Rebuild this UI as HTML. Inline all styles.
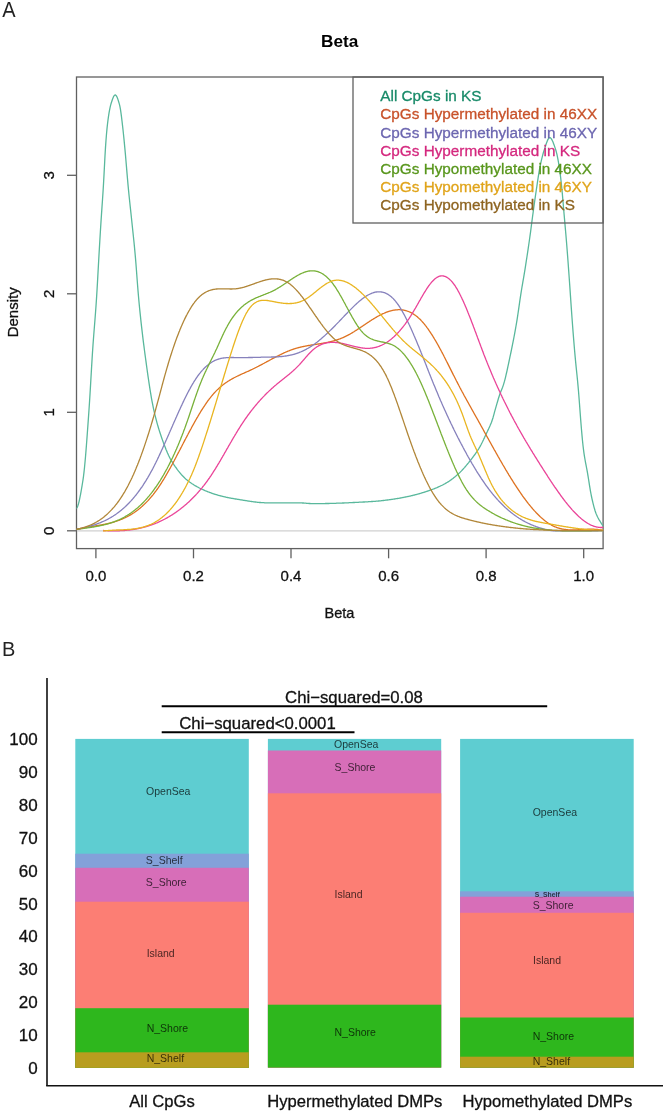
<!DOCTYPE html>
<html><head><meta charset="utf-8"><style>
html,body{margin:0;padding:0;background:#fff;width:666px;height:1116px;overflow:hidden}
svg{display:block;font-family:"Liberation Sans", sans-serif;will-change:transform}
</style></head><body>
<svg width="666" height="1116" viewBox="0 0 666 1116">
<text transform="translate(2.2,16.9) scale(0.93,1)" font-size="21.5" fill="#222" stroke="none">A</text>
<text x="339.7" y="46.9" font-size="17.2" font-weight="bold" text-anchor="middle" fill="#000">Beta</text>
<rect x="76.5" y="77" width="526.6" height="471.6" fill="none" stroke="#606060" stroke-width="1.3"/>
<line x1="77" y1="530.8" x2="603" y2="530.8" stroke="#d0d0d0" stroke-width="1.2"/>
<line x1="67" y1="530.8" x2="76.5" y2="530.8" stroke="#606060" stroke-width="1.3"/>
<text transform="translate(54,530.8) rotate(-90)" font-size="15" text-anchor="middle" fill="#111" stroke="#111" stroke-width="0.3">0</text>
<line x1="67" y1="412.3" x2="76.5" y2="412.3" stroke="#606060" stroke-width="1.3"/>
<text transform="translate(54,412.3) rotate(-90)" font-size="15" text-anchor="middle" fill="#111" stroke="#111" stroke-width="0.3">1</text>
<line x1="67" y1="293.8" x2="76.5" y2="293.8" stroke="#606060" stroke-width="1.3"/>
<text transform="translate(54,293.8) rotate(-90)" font-size="15" text-anchor="middle" fill="#111" stroke="#111" stroke-width="0.3">2</text>
<line x1="67" y1="175.3" x2="76.5" y2="175.3" stroke="#606060" stroke-width="1.3"/>
<text transform="translate(54,175.3) rotate(-90)" font-size="15" text-anchor="middle" fill="#111" stroke="#111" stroke-width="0.3">3</text>
<line x1="95.9" y1="548.5" x2="95.9" y2="558.3" stroke="#606060" stroke-width="1.3"/>
<text x="95.9" y="581.4" font-size="15" text-anchor="middle" fill="#111" stroke="#111" stroke-width="0.3">0.0</text>
<line x1="193.5" y1="548.5" x2="193.5" y2="558.3" stroke="#606060" stroke-width="1.3"/>
<text x="193.5" y="581.4" font-size="15" text-anchor="middle" fill="#111" stroke="#111" stroke-width="0.3">0.2</text>
<line x1="291.0" y1="548.5" x2="291.0" y2="558.3" stroke="#606060" stroke-width="1.3"/>
<text x="291.0" y="581.4" font-size="15" text-anchor="middle" fill="#111" stroke="#111" stroke-width="0.3">0.4</text>
<line x1="388.6" y1="548.5" x2="388.6" y2="558.3" stroke="#606060" stroke-width="1.3"/>
<text x="388.6" y="581.4" font-size="15" text-anchor="middle" fill="#111" stroke="#111" stroke-width="0.3">0.6</text>
<line x1="486.1" y1="548.5" x2="486.1" y2="558.3" stroke="#606060" stroke-width="1.3"/>
<text x="486.1" y="581.4" font-size="15" text-anchor="middle" fill="#111" stroke="#111" stroke-width="0.3">0.8</text>
<line x1="583.7" y1="548.5" x2="583.7" y2="558.3" stroke="#606060" stroke-width="1.3"/>
<text x="583.7" y="581.4" font-size="15" text-anchor="middle" fill="#111" stroke="#111" stroke-width="0.3">1.0</text>
<text x="339.5" y="617.8" font-size="14.5" text-anchor="middle" fill="#111" stroke="#111" stroke-width="0.3">Beta</text>
<text transform="translate(18,312.3) rotate(-90)" font-size="15" text-anchor="middle" fill="#111" stroke="#111" stroke-width="0.3">Density</text>
<defs><clipPath id="clipA"><rect x="76.5" y="77.5" width="526.8" height="471"/></clipPath></defs><g clip-path="url(#clipA)"><path d="M76.0,508.6 76.5,508.3 77.0,507.7 77.5,506.7 78.0,505.3 78.5,503.7 79.0,501.8 79.5,499.6 80.0,497.2 80.5,494.6 81.0,491.9 81.5,489.0 82.0,486.1 82.5,483.0 83.0,479.8 83.5,476.3 84.0,472.2 84.5,467.5 85.0,462.3 85.5,456.7 86.0,450.6 86.5,444.3 87.0,437.6 87.5,430.8 88.0,423.9 88.5,416.9 89.0,409.8 89.5,402.3 90.0,394.3 90.5,385.9 91.0,377.2 91.5,368.6 92.0,360.2 92.5,352.3 93.0,345.0 93.5,338.2 94.0,331.8 94.5,325.5 95.0,319.3 95.5,312.8 96.0,306.0 96.5,298.6 97.0,290.5 97.5,281.9 98.0,272.8 98.5,263.7 99.0,254.8 99.5,246.2 100.0,237.7 100.5,229.5 101.0,221.6 101.5,214.1 102.0,206.9 102.5,199.8 103.0,192.3 103.5,184.0 104.0,174.9 104.5,165.2 105.0,155.8 105.5,147.4 106.0,140.2 106.5,134.0 107.0,128.6 107.5,124.0 108.0,120.0 108.5,116.4 109.0,113.2 109.5,110.4 110.0,107.8 110.5,105.7 111.0,103.8 111.5,102.2 112.0,100.7 112.5,99.2 113.0,97.9 113.5,96.8 114.0,95.9 114.5,95.3 115.0,95.0 115.5,95.0 116.0,95.4 116.5,96.1 117.0,97.0 117.5,98.2 118.0,99.6 118.5,101.2 119.0,102.9 119.5,104.7 120.0,106.9 120.5,109.7 121.0,113.1 121.5,116.9 122.0,121.0 122.5,125.3 123.0,129.8 123.5,134.5 124.0,139.4 124.5,144.6 125.0,149.9 125.5,155.4 126.0,161.2 126.5,167.1 127.0,173.1 127.5,178.9 128.0,184.6 128.5,189.9 129.0,195.0 129.5,199.8 130.0,204.5 130.5,209.1 131.0,213.8 131.5,218.5 132.0,223.2 132.5,228.0 133.0,232.7 133.5,237.5 134.0,242.3 134.5,247.4 135.0,252.7 135.5,258.4 136.0,264.5 136.5,271.0 137.0,277.7 137.5,284.3 138.0,290.6 138.5,296.5 139.0,302.0 139.5,307.2 140.0,312.1 140.5,316.9 141.0,321.6 141.5,326.1 142.0,330.4 142.5,334.7 143.0,338.8 143.5,342.8 144.0,346.7 144.5,350.5 145.0,354.3 145.5,358.0 146.0,361.7 146.5,365.4 147.0,369.0 147.5,372.6 148.0,376.1 148.5,379.5 149.0,382.9 149.5,386.2 150.0,389.4 150.5,392.4 151.0,395.4 151.5,398.3 152.0,401.1 152.5,403.7 153.0,406.2 153.5,408.6 154.0,410.8 154.5,413.0 155.0,415.1 155.5,417.1 156.0,419.0 156.5,420.9 157.0,422.8 157.5,424.6 158.0,426.3 158.5,428.0 159.0,429.6 159.5,431.2 160.0,432.8 160.5,434.3 161.0,435.8 161.5,437.3 162.0,438.7 162.5,440.1 163.0,441.5 163.5,442.9 164.0,444.2 164.5,445.5 165.0,446.8 165.5,448.1 166.0,449.4 166.5,450.6 167.0,451.8 167.5,453.0 168.0,454.1 168.5,455.2 169.0,456.2 169.5,457.2 170.0,458.2 170.5,459.1 171.0,460.0 171.5,460.8 172.0,461.6 172.5,462.4 173.0,463.2 173.5,464.0 174.0,464.8 174.5,465.5 175.0,466.3 175.5,467.0 176.0,467.7 176.5,468.4 177.0,469.1 177.5,469.8 178.0,470.4 178.5,471.1 179.0,471.7 179.5,472.3 180.0,472.9 180.5,473.5 181.0,474.1 181.5,474.7 182.0,475.2 182.5,475.8 183.0,476.3 183.5,476.8 184.0,477.3 184.5,477.8 185.0,478.3 185.5,478.7 186.0,479.2 186.5,479.6 187.0,480.0 187.5,480.4 188.0,480.8 188.5,481.2 189.0,481.6 189.5,481.9 190.0,482.3 190.5,482.6 191.0,483.0 191.5,483.3 192.0,483.7 192.5,484.0 193.0,484.3 193.5,484.6 194.0,485.0 194.5,485.3 195.0,485.6 195.5,485.9 196.0,486.1 196.5,486.4 197.0,486.7 197.5,487.0 198.0,487.2 198.5,487.5 199.0,487.8 199.5,488.0 200.0,488.3 200.5,488.5 201.0,488.8 201.5,489.0 202.0,489.2 202.5,489.5 203.0,489.7 203.5,489.9 204.0,490.1 204.5,490.3 205.0,490.6 205.5,490.8 206.0,491.0 206.5,491.2 207.0,491.4 207.5,491.6 208.0,491.8 208.5,492.0 209.0,492.2 209.5,492.4 210.0,492.6 210.5,492.7 211.0,492.9 211.5,493.1 212.0,493.3 212.5,493.5 213.0,493.6 213.5,493.8 214.0,494.0 214.5,494.1 215.0,494.3 215.5,494.4 216.0,494.6 216.5,494.7 217.0,494.9 217.5,495.0 218.0,495.2 218.5,495.3 219.0,495.5 219.5,495.6 220.0,495.7 220.5,495.9 221.0,496.0 221.5,496.1 222.0,496.2 222.5,496.3 223.0,496.5 223.5,496.6 224.0,496.7 224.5,496.8 225.0,496.9 225.5,497.0 226.0,497.2 226.5,497.3 227.0,497.4 227.5,497.5 228.0,497.6 228.5,497.7 229.0,497.8 229.5,497.9 230.0,498.0 230.5,498.1 231.0,498.2 231.5,498.3 232.0,498.4 232.5,498.4 233.0,498.5 233.5,498.6 234.0,498.7 234.5,498.8 235.0,498.9 235.5,499.0 236.0,499.0 236.5,499.1 237.0,499.2 237.5,499.3 238.0,499.4 238.5,499.4 239.0,499.5 239.5,499.6 240.0,499.7 240.5,499.8 241.0,499.8 241.5,499.9 242.0,500.0 242.5,500.1 243.0,500.2 243.5,500.3 244.0,500.3 244.5,500.4 245.0,500.5 245.5,500.6 246.0,500.7 246.5,500.7 247.0,500.8 247.5,500.9 248.0,501.0 248.5,501.1 249.0,501.1 249.5,501.2 250.0,501.3 250.5,501.4 251.0,501.4 251.5,501.5 252.0,501.6 252.5,501.6 253.0,501.7 253.5,501.8 254.0,501.9 254.5,501.9 255.0,502.0 255.5,502.0 256.0,502.1 256.5,502.2 257.0,502.2 257.5,502.3 258.0,502.3 258.5,502.4 259.0,502.4 259.5,502.5 260.0,502.5 260.5,502.5 261.0,502.6 261.5,502.6 262.0,502.6 262.5,502.7 263.0,502.7 263.5,502.7 264.0,502.7 264.5,502.8 265.0,502.8 265.5,502.8 266.0,502.8 266.5,502.8 267.0,502.8 267.5,502.8 268.0,502.8 268.5,502.8 269.0,502.8 269.5,502.8 270.0,502.8 270.5,502.8 271.0,502.8 271.5,502.8 272.0,502.8 272.5,502.8 273.0,502.8 273.5,502.8 274.0,502.8 274.5,502.8 275.0,502.8 275.5,502.8 276.0,502.8 276.5,502.8 277.0,502.8 277.5,502.8 278.0,502.8 278.5,502.8 279.0,502.8 279.5,502.8 280.0,502.8 280.5,502.8 281.0,502.8 281.5,502.8 282.0,502.8 282.5,502.8 283.0,502.8 283.5,502.8 284.0,502.8 284.5,502.8 285.0,502.8 285.5,502.8 286.0,502.8 286.5,502.8 287.0,502.8 287.5,502.8 288.0,502.8 288.5,502.8 289.0,502.8 289.5,502.8 290.0,502.8 290.5,502.8 291.0,502.8 291.5,502.8 292.0,502.8 292.5,502.8 293.0,502.8 293.5,502.8 294.0,502.8 294.5,502.8 295.0,502.8 295.5,502.8 296.0,502.8 296.5,502.8 297.0,502.8 297.5,502.8 298.0,502.8 298.5,502.8 299.0,502.8 299.5,502.8 300.0,502.8 300.5,502.9 301.0,502.9 301.5,502.9 302.0,502.9 302.5,503.0 303.0,503.0 303.5,503.0 304.0,503.1 304.5,503.1 305.0,503.1 305.5,503.2 306.0,503.2 306.5,503.3 307.0,503.3 307.5,503.3 308.0,503.4 308.5,503.4 309.0,503.5 309.5,503.5 310.0,503.5 310.5,503.6 311.0,503.6 311.5,503.6 312.0,503.6 312.5,503.7 313.0,503.7 313.5,503.7 314.0,503.7 314.5,503.7 315.0,503.7 315.5,503.7 316.0,503.7 316.5,503.7 317.0,503.7 317.5,503.7 318.0,503.7 318.5,503.7 319.0,503.7 319.5,503.7 320.0,503.7 320.5,503.7 321.0,503.6 321.5,503.6 322.0,503.6 322.5,503.6 323.0,503.6 323.5,503.6 324.0,503.6 324.5,503.6 325.0,503.6 325.5,503.5 326.0,503.5 326.5,503.5 327.0,503.5 327.5,503.5 328.0,503.5 328.5,503.5 329.0,503.5 329.5,503.4 330.0,503.4 330.5,503.4 331.0,503.4 331.5,503.4 332.0,503.4 332.5,503.4 333.0,503.3 333.5,503.3 334.0,503.3 334.5,503.3 335.0,503.3 335.5,503.3 336.0,503.3 336.5,503.2 337.0,503.2 337.5,503.2 338.0,503.2 338.5,503.2 339.0,503.2 339.5,503.1 340.0,503.1 340.5,503.1 341.0,503.1 341.5,503.1 342.0,503.1 342.5,503.0 343.0,503.0 343.5,503.0 344.0,503.0 344.5,502.9 345.0,502.9 345.5,502.9 346.0,502.9 346.5,502.9 347.0,502.8 347.5,502.8 348.0,502.8 348.5,502.8 349.0,502.7 349.5,502.7 350.0,502.7 350.5,502.7 351.0,502.6 351.5,502.6 352.0,502.6 352.5,502.6 353.0,502.5 353.5,502.5 354.0,502.5 354.5,502.5 355.0,502.4 355.5,502.4 356.0,502.4 356.5,502.4 357.0,502.3 357.5,502.3 358.0,502.3 358.5,502.3 359.0,502.2 359.5,502.2 360.0,502.2 360.5,502.2 361.0,502.1 361.5,502.1 362.0,502.1 362.5,502.1 363.0,502.0 363.5,502.0 364.0,502.0 364.5,502.0 365.0,501.9 365.5,501.9 366.0,501.9 366.5,501.8 367.0,501.8 367.5,501.8 368.0,501.8 368.5,501.7 369.0,501.7 369.5,501.7 370.0,501.6 370.5,501.6 371.0,501.6 371.5,501.5 372.0,501.5 372.5,501.5 373.0,501.4 373.5,501.4 374.0,501.4 374.5,501.3 375.0,501.3 375.5,501.3 376.0,501.2 376.5,501.2 377.0,501.1 377.5,501.1 378.0,501.1 378.5,501.0 379.0,501.0 379.5,500.9 380.0,500.9 380.5,500.8 381.0,500.8 381.5,500.7 382.0,500.6 382.5,500.6 383.0,500.5 383.5,500.5 384.0,500.4 384.5,500.4 385.0,500.3 385.5,500.2 386.0,500.2 386.5,500.1 387.0,500.0 387.5,500.0 388.0,499.9 388.5,499.8 389.0,499.8 389.5,499.7 390.0,499.6 390.5,499.6 391.0,499.5 391.5,499.4 392.0,499.3 392.5,499.3 393.0,499.2 393.5,499.1 394.0,499.1 394.5,499.0 395.0,498.9 395.5,498.8 396.0,498.7 396.5,498.7 397.0,498.6 397.5,498.5 398.0,498.4 398.5,498.3 399.0,498.3 399.5,498.2 400.0,498.1 400.5,498.0 401.0,497.9 401.5,497.8 402.0,497.7 402.5,497.6 403.0,497.5 403.5,497.4 404.0,497.3 404.5,497.2 405.0,497.1 405.5,497.0 406.0,496.9 406.5,496.8 407.0,496.7 407.5,496.6 408.0,496.5 408.5,496.4 409.0,496.3 409.5,496.2 410.0,496.1 410.5,496.0 411.0,495.8 411.5,495.7 412.0,495.6 412.5,495.5 413.0,495.4 413.5,495.2 414.0,495.1 414.5,495.0 415.0,494.9 415.5,494.7 416.0,494.6 416.5,494.5 417.0,494.3 417.5,494.2 418.0,494.0 418.5,493.9 419.0,493.8 419.5,493.6 420.0,493.5 420.5,493.3 421.0,493.2 421.5,493.0 422.0,492.9 422.5,492.7 423.0,492.6 423.5,492.4 424.0,492.3 424.5,492.1 425.0,491.9 425.5,491.8 426.0,491.6 426.5,491.4 427.0,491.3 427.5,491.1 428.0,490.9 428.5,490.8 429.0,490.6 429.5,490.4 430.0,490.2 430.5,490.1 431.0,489.9 431.5,489.7 432.0,489.5 432.5,489.3 433.0,489.2 433.5,489.0 434.0,488.8 434.5,488.6 435.0,488.4 435.5,488.2 436.0,488.0 436.5,487.8 437.0,487.6 437.5,487.3 438.0,487.1 438.5,486.9 439.0,486.7 439.5,486.5 440.0,486.2 440.5,486.0 441.0,485.7 441.5,485.5 442.0,485.3 442.5,485.0 443.0,484.8 443.5,484.5 444.0,484.2 444.5,484.0 445.0,483.7 445.5,483.4 446.0,483.1 446.5,482.8 447.0,482.5 447.5,482.2 448.0,481.9 448.5,481.6 449.0,481.3 449.5,480.9 450.0,480.6 450.5,480.2 451.0,479.9 451.5,479.5 452.0,479.1 452.5,478.8 453.0,478.4 453.5,478.0 454.0,477.6 454.5,477.2 455.0,476.8 455.5,476.4 456.0,475.9 456.5,475.5 457.0,475.1 457.5,474.6 458.0,474.2 458.5,473.7 459.0,473.3 459.5,472.8 460.0,472.4 460.5,471.9 461.0,471.4 461.5,470.9 462.0,470.3 462.5,469.8 463.0,469.3 463.5,468.7 464.0,468.1 464.5,467.6 465.0,467.0 465.5,466.4 466.0,465.8 466.5,465.2 467.0,464.6 467.5,464.0 468.0,463.4 468.5,462.8 469.0,462.1 469.5,461.5 470.0,460.9 470.5,460.3 471.0,459.6 471.5,459.0 472.0,458.3 472.5,457.7 473.0,457.0 473.5,456.4 474.0,455.7 474.5,455.0 475.0,454.3 475.5,453.6 476.0,452.9 476.5,452.2 477.0,451.5 477.5,450.7 478.0,449.9 478.5,449.1 479.0,448.3 479.5,447.4 480.0,446.6 480.5,445.6 481.0,444.7 481.5,443.7 482.0,442.8 482.5,441.8 483.0,440.7 483.5,439.7 484.0,438.6 484.5,437.6 485.0,436.5 485.5,435.4 486.0,434.4 486.5,433.3 487.0,432.2 487.5,431.2 488.0,430.1 488.5,429.1 489.0,428.0 489.5,426.9 490.0,425.8 490.5,424.6 491.0,423.4 491.5,422.2 492.0,420.8 492.5,419.3 493.0,417.7 493.5,415.9 494.0,414.1 494.5,412.2 495.0,410.4 495.5,408.6 496.0,406.9 496.5,405.1 497.0,403.4 497.5,401.7 498.0,400.0 498.5,398.3 499.0,396.7 499.5,395.2 500.0,393.8 500.5,392.4 501.0,391.1 501.5,389.9 502.0,388.7 502.5,387.5 503.0,386.1 503.5,384.6 504.0,382.9 504.5,381.2 505.0,379.3 505.5,377.3 506.0,375.2 506.5,373.0 507.0,370.8 507.5,368.5 508.0,366.2 508.5,363.8 509.0,361.5 509.5,359.1 510.0,356.7 510.5,354.4 511.0,352.0 511.5,349.6 512.0,347.1 512.5,344.7 513.0,342.2 513.5,339.6 514.0,337.0 514.5,334.4 515.0,331.7 515.5,328.9 516.0,326.0 516.5,323.1 517.0,320.1 517.5,316.9 518.0,313.5 518.5,310.1 519.0,306.6 519.5,303.1 520.0,299.6 520.5,296.3 521.0,293.1 521.5,290.0 522.0,287.0 522.5,284.1 523.0,281.2 523.5,278.3 524.0,275.3 524.5,272.3 525.0,269.3 525.5,266.1 526.0,262.9 526.5,259.7 527.0,256.5 527.5,253.2 528.0,249.8 528.5,246.4 529.0,243.0 529.5,239.5 530.0,235.9 530.5,232.3 531.0,228.5 531.5,224.7 532.0,220.9 532.5,217.0 533.0,213.3 533.5,209.6 534.0,206.0 534.5,202.4 535.0,198.9 535.5,195.4 536.0,192.0 536.5,188.7 537.0,185.3 537.5,181.9 538.0,178.6 538.5,175.4 539.0,172.3 539.5,169.4 540.0,166.8 540.5,164.4 541.0,162.1 541.5,159.9 542.0,157.8 542.5,155.8 543.0,154.0 543.5,152.2 544.0,150.6 544.5,149.1 545.0,147.6 545.5,146.0 546.0,144.5 546.5,143.0 547.0,141.7 547.5,140.4 548.0,139.4 548.5,138.6 549.0,138.0 549.5,137.7 550.0,137.7 550.5,137.9 551.0,138.4 551.5,139.1 552.0,139.9 552.5,141.0 553.0,142.1 553.5,143.4 554.0,144.7 554.5,146.1 555.0,147.6 555.5,149.1 556.0,150.8 556.5,152.6 557.0,154.7 557.5,157.1 558.0,159.7 558.5,162.5 559.0,165.6 559.5,168.8 560.0,172.4 560.5,176.4 561.0,180.7 561.5,185.3 562.0,190.3 562.5,195.6 563.0,201.4 563.5,207.3 564.0,213.2 564.5,218.9 565.0,224.6 565.5,230.2 566.0,236.0 566.5,242.0 567.0,248.2 567.5,254.6 568.0,261.3 568.5,268.1 569.0,275.0 569.5,282.0 570.0,289.1 570.5,296.4 571.0,303.7 571.5,310.9 572.0,317.8 572.5,324.5 573.0,331.1 573.5,337.4 574.0,343.5 574.5,349.5 575.0,355.1 575.5,360.5 576.0,365.6 576.5,370.5 577.0,375.3 577.5,380.3 578.0,385.6 578.5,391.3 579.0,397.5 579.5,404.0 580.0,410.8 580.5,417.4 581.0,423.8 581.5,429.8 582.0,435.4 582.5,440.7 583.0,445.5 583.5,449.7 584.0,453.4 584.5,456.6 585.0,459.5 585.5,462.3 586.0,464.9 586.5,467.5 587.0,470.2 587.5,472.9 588.0,475.9 588.5,479.0 589.0,482.1 589.5,485.3 590.0,488.4 590.5,491.3 591.0,494.0 591.5,496.5 592.0,498.8 592.5,501.0 593.0,503.1 593.5,505.1 594.0,507.1 594.5,508.8 595.0,510.5 595.5,512.0 596.0,513.4 596.5,514.6 597.0,515.7 597.5,516.8 598.0,517.8 598.5,518.7 599.0,519.6 599.5,520.4 600.0,521.2 600.5,522.0 601.0,522.8 601.5,523.6 602.0,524.3 602.5,525.1 603.0,525.8 603.5,526.2" fill="none" stroke="#59b89c" stroke-width="1.3" stroke-linejoin="round"/>
<path d="M76.0,529.5 76.5,529.4 77.0,529.2 77.5,529.1 78.0,529.0 78.5,528.9 79.0,528.8 79.5,528.7 80.0,528.6 80.5,528.5 81.0,528.4 81.5,528.3 82.0,528.2 82.5,528.1 83.0,528.0 83.5,527.9 84.0,527.8 84.5,527.7 85.0,527.6 85.5,527.5 86.0,527.5 86.5,527.4 87.0,527.3 87.5,527.2 88.0,527.1 88.5,527.0 89.0,527.0 89.5,526.9 90.0,526.8 90.5,526.7 91.0,526.6 91.5,526.6 92.0,526.5 92.5,526.4 93.0,526.3 93.5,526.2 94.0,526.2 94.5,526.1 95.0,526.0 95.5,525.9 96.0,525.8 96.5,525.7 97.0,525.7 97.5,525.6 98.0,525.5 98.5,525.4 99.0,525.3 99.5,525.2 100.0,525.1 100.5,525.1 101.0,525.0 101.5,524.9 102.0,524.8 102.5,524.7 103.0,524.6 103.5,524.5 104.0,524.4 104.5,524.3 105.0,524.2 105.5,524.1 106.0,524.0 106.5,523.9 107.0,523.8 107.5,523.7 108.0,523.5 108.5,523.4 109.0,523.3 109.5,523.2 110.0,523.1 110.5,522.9 111.0,522.8 111.5,522.7 112.0,522.5 112.5,522.4 113.0,522.3 113.5,522.1 114.0,522.0 114.5,521.8 115.0,521.7 115.5,521.5 116.0,521.3 116.5,521.2 117.0,521.0 117.5,520.8 118.0,520.7 118.5,520.5 119.0,520.3 119.5,520.1 120.0,519.9 120.5,519.7 121.0,519.5 121.5,519.3 122.0,519.1 122.5,518.9 123.0,518.7 123.5,518.5 124.0,518.2 124.5,518.0 125.0,517.8 125.5,517.5 126.0,517.3 126.5,517.0 127.0,516.8 127.5,516.5 128.0,516.3 128.5,516.0 129.0,515.7 129.5,515.4 130.0,515.2 130.5,514.9 131.0,514.6 131.5,514.3 132.0,514.0 132.5,513.6 133.0,513.3 133.5,513.0 134.0,512.7 134.5,512.3 135.0,512.0 135.5,511.6 136.0,511.3 136.5,510.9 137.0,510.5 137.5,510.2 138.0,509.8 138.5,509.4 139.0,509.0 139.5,508.6 140.0,508.2 140.5,507.7 141.0,507.3 141.5,506.9 142.0,506.4 142.5,506.0 143.0,505.5 143.5,505.1 144.0,504.6 144.5,504.1 145.0,503.6 145.5,503.2 146.0,502.6 146.5,502.1 147.0,501.6 147.5,501.1 148.0,500.6 148.5,500.0 149.0,499.5 149.5,498.9 150.0,498.3 150.5,497.8 151.0,497.2 151.5,496.6 152.0,496.0 152.5,495.4 153.0,494.8 153.5,494.1 154.0,493.5 154.5,492.9 155.0,492.2 155.5,491.5 156.0,490.9 156.5,490.2 157.0,489.5 157.5,488.8 158.0,488.1 158.5,487.3 159.0,486.6 159.5,485.9 160.0,485.1 160.5,484.4 161.0,483.6 161.5,482.8 162.0,482.0 162.5,481.2 163.0,480.4 163.5,479.6 164.0,478.8 164.5,477.9 165.0,477.1 165.5,476.3 166.0,475.4 166.5,474.5 167.0,473.7 167.5,472.8 168.0,471.9 168.5,471.0 169.0,470.2 169.5,469.3 170.0,468.4 170.5,467.5 171.0,466.5 171.5,465.6 172.0,464.7 172.5,463.8 173.0,462.8 173.5,461.9 174.0,461.0 174.5,460.0 175.0,459.1 175.5,458.2 176.0,457.2 176.5,456.3 177.0,455.3 177.5,454.3 178.0,453.4 178.5,452.4 179.0,451.5 179.5,450.5 180.0,449.6 180.5,448.6 181.0,447.6 181.5,446.7 182.0,445.7 182.5,444.7 183.0,443.8 183.5,442.8 184.0,441.9 184.5,440.9 185.0,439.9 185.5,439.0 186.0,438.0 186.5,437.1 187.0,436.1 187.5,435.2 188.0,434.3 188.5,433.3 189.0,432.4 189.5,431.4 190.0,430.5 190.5,429.6 191.0,428.7 191.5,427.7 192.0,426.8 192.5,425.9 193.0,425.0 193.5,424.1 194.0,423.2 194.5,422.3 195.0,421.4 195.5,420.5 196.0,419.7 196.5,418.8 197.0,417.9 197.5,417.1 198.0,416.2 198.5,415.4 199.0,414.5 199.5,413.7 200.0,412.9 200.5,412.0 201.0,411.2 201.5,410.4 202.0,409.6 202.5,408.8 203.0,408.0 203.5,407.3 204.0,406.5 204.5,405.8 205.0,405.0 205.5,404.3 206.0,403.5 206.5,402.8 207.0,402.1 207.5,401.4 208.0,400.7 208.5,400.0 209.0,399.4 209.5,398.7 210.0,398.1 210.5,397.4 211.0,396.8 211.5,396.2 212.0,395.6 212.5,395.0 213.0,394.4 213.5,393.8 214.0,393.3 214.5,392.7 215.0,392.2 215.5,391.6 216.0,391.1 216.5,390.6 217.0,390.1 217.5,389.6 218.0,389.2 218.5,388.7 219.0,388.2 219.5,387.8 220.0,387.3 220.5,386.9 221.0,386.5 221.5,386.1 222.0,385.6 222.5,385.2 223.0,384.8 223.5,384.5 224.0,384.1 224.5,383.7 225.0,383.3 225.5,383.0 226.0,382.6 226.5,382.3 227.0,382.0 227.5,381.6 228.0,381.3 228.5,381.0 229.0,380.7 229.5,380.4 230.0,380.1 230.5,379.8 231.0,379.5 231.5,379.2 232.0,378.9 232.5,378.6 233.0,378.3 233.5,378.1 234.0,377.8 234.5,377.5 235.0,377.3 235.5,377.0 236.0,376.8 236.5,376.5 237.0,376.3 237.5,376.0 238.0,375.8 238.5,375.6 239.0,375.3 239.5,375.1 240.0,374.9 240.5,374.6 241.0,374.4 241.5,374.2 242.0,374.0 242.5,373.7 243.0,373.5 243.5,373.3 244.0,373.1 244.5,372.8 245.0,372.6 245.5,372.4 246.0,372.2 246.5,372.0 247.0,371.7 247.5,371.5 248.0,371.3 248.5,371.1 249.0,370.8 249.5,370.6 250.0,370.4 250.5,370.2 251.0,369.9 251.5,369.7 252.0,369.5 252.5,369.2 253.0,369.0 253.5,368.7 254.0,368.5 254.5,368.2 255.0,368.0 255.5,367.7 256.0,367.5 256.5,367.2 257.0,367.0 257.5,366.7 258.0,366.5 258.5,366.2 259.0,365.9 259.5,365.7 260.0,365.4 260.5,365.1 261.0,364.9 261.5,364.6 262.0,364.3 262.5,364.1 263.0,363.8 263.5,363.5 264.0,363.3 264.5,363.0 265.0,362.7 265.5,362.5 266.0,362.2 266.5,361.9 267.0,361.6 267.5,361.4 268.0,361.1 268.5,360.8 269.0,360.6 269.5,360.3 270.0,360.0 270.5,359.8 271.0,359.5 271.5,359.2 272.0,358.9 272.5,358.7 273.0,358.4 273.5,358.1 274.0,357.9 274.5,357.6 275.0,357.4 275.5,357.1 276.0,356.8 276.5,356.6 277.0,356.3 277.5,356.1 278.0,355.8 278.5,355.6 279.0,355.3 279.5,355.1 280.0,354.8 280.5,354.6 281.0,354.3 281.5,354.1 282.0,353.8 282.5,353.6 283.0,353.4 283.5,353.1 284.0,352.9 284.5,352.7 285.0,352.5 285.5,352.2 286.0,352.0 286.5,351.8 287.0,351.6 287.5,351.4 288.0,351.2 288.5,351.0 289.0,350.8 289.5,350.6 290.0,350.4 290.5,350.2 291.0,350.0 291.5,349.8 292.0,349.6 292.5,349.5 293.0,349.3 293.5,349.1 294.0,348.9 294.5,348.8 295.0,348.6 295.5,348.5 296.0,348.3 296.5,348.2 297.0,348.0 297.5,347.9 298.0,347.8 298.5,347.6 299.0,347.5 299.5,347.4 300.0,347.3 300.5,347.1 301.0,347.0 301.5,346.9 302.0,346.8 302.5,346.7 303.0,346.6 303.5,346.5 304.0,346.4 304.5,346.3 305.0,346.2 305.5,346.1 306.0,346.0 306.5,345.9 307.0,345.8 307.5,345.7 308.0,345.6 308.5,345.5 309.0,345.5 309.5,345.4 310.0,345.3 310.5,345.2 311.0,345.1 311.5,345.0 312.0,345.0 312.5,344.9 313.0,344.8 313.5,344.7 314.0,344.7 314.5,344.6 315.0,344.5 315.5,344.4 316.0,344.3 316.5,344.3 317.0,344.2 317.5,344.1 318.0,344.0 318.5,344.0 319.0,343.9 319.5,343.8 320.0,343.7 320.5,343.6 321.0,343.6 321.5,343.5 322.0,343.4 322.5,343.3 323.0,343.2 323.5,343.1 324.0,343.0 324.5,342.9 325.0,342.9 325.5,342.8 326.0,342.7 326.5,342.6 327.0,342.5 327.5,342.4 328.0,342.3 328.5,342.1 329.0,342.0 329.5,341.9 330.0,341.8 330.5,341.7 331.0,341.6 331.5,341.4 332.0,341.3 332.5,341.2 333.0,341.1 333.5,340.9 334.0,340.8 334.5,340.6 335.0,340.5 335.5,340.3 336.0,340.2 336.5,340.0 337.0,339.9 337.5,339.7 338.0,339.5 338.5,339.4 339.0,339.2 339.5,339.0 340.0,338.8 340.5,338.6 341.0,338.4 341.5,338.2 342.0,338.0 342.5,337.8 343.0,337.6 343.5,337.4 344.0,337.2 344.5,336.9 345.0,336.7 345.5,336.4 346.0,336.2 346.5,335.9 347.0,335.7 347.5,335.4 348.0,335.2 348.5,334.9 349.0,334.6 349.5,334.3 350.0,334.1 350.5,333.8 351.0,333.5 351.5,333.2 352.0,332.9 352.5,332.6 353.0,332.3 353.5,332.0 354.0,331.7 354.5,331.3 355.0,331.0 355.5,330.7 356.0,330.4 356.5,330.1 357.0,329.8 357.5,329.4 358.0,329.1 358.5,328.8 359.0,328.4 359.5,328.1 360.0,327.8 360.5,327.4 361.0,327.1 361.5,326.8 362.0,326.4 362.5,326.1 363.0,325.8 363.5,325.4 364.0,325.1 364.5,324.8 365.0,324.4 365.5,324.1 366.0,323.7 366.5,323.4 367.0,323.1 367.5,322.7 368.0,322.4 368.5,322.1 369.0,321.8 369.5,321.4 370.0,321.1 370.5,320.8 371.0,320.5 371.5,320.1 372.0,319.8 372.5,319.5 373.0,319.2 373.5,318.9 374.0,318.6 374.5,318.3 375.0,318.0 375.5,317.7 376.0,317.4 376.5,317.1 377.0,316.8 377.5,316.5 378.0,316.2 378.5,316.0 379.0,315.7 379.5,315.4 380.0,315.2 380.5,314.9 381.0,314.7 381.5,314.4 382.0,314.2 382.5,313.9 383.0,313.7 383.5,313.5 384.0,313.3 384.5,313.0 385.0,312.8 385.5,312.6 386.0,312.4 386.5,312.2 387.0,312.0 387.5,311.9 388.0,311.7 388.5,311.5 389.0,311.4 389.5,311.2 390.0,311.1 390.5,310.9 391.0,310.8 391.5,310.7 392.0,310.5 392.5,310.4 393.0,310.3 393.5,310.2 394.0,310.1 394.5,310.1 395.0,310.0 395.5,309.9 396.0,309.9 396.5,309.8 397.0,309.8 397.5,309.8 398.0,309.7 398.5,309.7 399.0,309.7 399.5,309.7 400.0,309.7 400.5,309.8 401.0,309.8 401.5,309.8 402.0,309.9 402.5,310.0 403.0,310.0 403.5,310.1 404.0,310.2 404.5,310.3 405.0,310.4 405.5,310.6 406.0,310.7 406.5,310.8 407.0,311.0 407.5,311.2 408.0,311.3 408.5,311.5 409.0,311.7 409.5,312.0 410.0,312.2 410.5,312.4 411.0,312.7 411.5,312.9 412.0,313.2 412.5,313.5 413.0,313.8 413.5,314.1 414.0,314.4 414.5,314.8 415.0,315.1 415.5,315.5 416.0,315.8 416.5,316.2 417.0,316.6 417.5,317.0 418.0,317.5 418.5,317.9 419.0,318.4 419.5,318.8 420.0,319.3 420.5,319.8 421.0,320.3 421.5,320.9 422.0,321.4 422.5,322.0 423.0,322.5 423.5,323.1 424.0,323.7 424.5,324.3 425.0,324.9 425.5,325.6 426.0,326.2 426.5,326.9 427.0,327.6 427.5,328.2 428.0,328.9 428.5,329.6 429.0,330.4 429.5,331.1 430.0,331.8 430.5,332.6 431.0,333.4 431.5,334.1 432.0,334.9 432.5,335.7 433.0,336.5 433.5,337.3 434.0,338.1 434.5,339.0 435.0,339.8 435.5,340.7 436.0,341.5 436.5,342.4 437.0,343.3 437.5,344.2 438.0,345.0 438.5,345.9 439.0,346.9 439.5,347.8 440.0,348.7 440.5,349.6 441.0,350.5 441.5,351.5 442.0,352.4 442.5,353.4 443.0,354.3 443.5,355.3 444.0,356.3 444.5,357.2 445.0,358.2 445.5,359.2 446.0,360.2 446.5,361.2 447.0,362.1 447.5,363.1 448.0,364.1 448.5,365.1 449.0,366.1 449.5,367.1 450.0,368.1 450.5,369.1 451.0,370.1 451.5,371.1 452.0,372.1 452.5,373.1 453.0,374.1 453.5,375.1 454.0,376.0 454.5,377.0 455.0,378.0 455.5,379.0 456.0,380.0 456.5,381.0 457.0,381.9 457.5,382.9 458.0,383.9 458.5,384.8 459.0,385.8 459.5,386.7 460.0,387.7 460.5,388.6 461.0,389.6 461.5,390.5 462.0,391.5 462.5,392.4 463.0,393.3 463.5,394.2 464.0,395.2 464.5,396.1 465.0,397.0 465.5,397.9 466.0,398.8 466.5,399.7 467.0,400.6 467.5,401.5 468.0,402.4 468.5,403.3 469.0,404.2 469.5,405.1 470.0,406.0 470.5,406.9 471.0,407.8 471.5,408.7 472.0,409.6 472.5,410.5 473.0,411.4 473.5,412.3 474.0,413.2 474.5,414.1 475.0,415.0 475.5,415.9 476.0,416.8 476.5,417.7 477.0,418.5 477.5,419.4 478.0,420.3 478.5,421.2 479.0,422.1 479.5,423.0 480.0,423.9 480.5,424.8 481.0,425.7 481.5,426.6 482.0,427.5 482.5,428.4 483.0,429.3 483.5,430.2 484.0,431.1 484.5,432.1 485.0,433.0 485.5,433.9 486.0,434.8 486.5,435.7 487.0,436.6 487.5,437.5 488.0,438.4 488.5,439.3 489.0,440.2 489.5,441.1 490.0,442.0 490.5,442.9 491.0,443.8 491.5,444.7 492.0,445.6 492.5,446.5 493.0,447.4 493.5,448.3 494.0,449.2 494.5,450.1 495.0,450.9 495.5,451.8 496.0,452.7 496.5,453.6 497.0,454.5 497.5,455.4 498.0,456.3 498.5,457.1 499.0,458.0 499.5,458.9 500.0,459.8 500.5,460.6 501.0,461.5 501.5,462.4 502.0,463.2 502.5,464.1 503.0,465.0 503.5,465.8 504.0,466.7 504.5,467.5 505.0,468.4 505.5,469.2 506.0,470.1 506.5,470.9 507.0,471.7 507.5,472.6 508.0,473.4 508.5,474.2 509.0,475.1 509.5,475.9 510.0,476.7 510.5,477.5 511.0,478.3 511.5,479.1 512.0,479.9 512.5,480.7 513.0,481.5 513.5,482.3 514.0,483.1 514.5,483.9 515.0,484.7 515.5,485.4 516.0,486.2 516.5,487.0 517.0,487.7 517.5,488.5 518.0,489.2 518.5,490.0 519.0,490.7 519.5,491.4 520.0,492.2 520.5,492.9 521.0,493.6 521.5,494.3 522.0,495.0 522.5,495.8 523.0,496.5 523.5,497.1 524.0,497.8 524.5,498.5 525.0,499.2 525.5,499.9 526.0,500.5 526.5,501.2 527.0,501.8 527.5,502.5 528.0,503.1 528.5,503.8 529.0,504.4 529.5,505.0 530.0,505.6 530.5,506.2 531.0,506.8 531.5,507.4 532.0,508.0 532.5,508.6 533.0,509.2 533.5,509.7 534.0,510.3 534.5,510.9 535.0,511.4 535.5,511.9 536.0,512.5 536.5,513.0 537.0,513.5 537.5,514.0 538.0,514.5 538.5,515.0 539.0,515.5 539.5,516.0 540.0,516.5 540.5,516.9 541.0,517.4 541.5,517.8 542.0,518.3 542.5,518.7 543.0,519.1 543.5,519.6 544.0,520.0 544.5,520.4 545.0,520.8 545.5,521.2 546.0,521.5 546.5,521.9 547.0,522.3 547.5,522.6 548.0,523.0 548.5,523.3 549.0,523.6 549.5,523.9 550.0,524.2 550.5,524.5 551.0,524.8 551.5,525.1 552.0,525.4 552.5,525.6 553.0,525.9 553.5,526.1 554.0,526.4 554.5,526.6 555.0,526.8 555.5,527.0 556.0,527.2 556.5,527.4 557.0,527.6 557.5,527.8 558.0,527.9 558.5,528.1 559.0,528.2 559.5,528.4 560.0,528.5 560.5,528.6 561.0,528.7 561.5,528.9 562.0,529.0 562.5,529.1 563.0,529.2 563.5,529.2 564.0,529.3 564.5,529.4 565.0,529.5 565.5,529.5 566.0,529.6 566.5,529.6 567.0,529.7 567.5,529.7 568.0,529.8 568.5,529.8 569.0,529.8 569.5,529.8 570.0,529.9 570.5,529.9 571.0,529.9 571.5,529.9 572.0,529.9 572.5,529.9 573.0,529.9 573.5,529.9 574.0,529.9 574.5,529.9 575.0,529.9 575.5,529.8 576.0,529.8 576.5,529.8 577.0,529.8 577.5,529.8 578.0,529.7 578.5,529.7 579.0,529.7 579.5,529.7 580.0,529.6 580.5,529.6 581.0,529.6 581.5,529.5 582.0,529.5 582.5,529.5 583.0,529.5 583.5,529.4 584.0,529.4 584.5,529.4 585.0,529.3 585.5,529.3 586.0,529.3 586.5,529.3 587.0,529.3 587.5,529.2 588.0,529.2 588.5,529.2 589.0,529.2 589.5,529.2 590.0,529.2 590.5,529.2 591.0,529.2 591.5,529.2 592.0,529.2 592.5,529.2 593.0,529.2 593.5,529.2 594.0,529.2 594.5,529.3 595.0,529.3 595.5,529.3 596.0,529.4 596.5,529.4 597.0,529.5 597.5,529.5 598.0,529.6 598.5,529.6 599.0,529.7 599.5,529.8 600.0,529.9 600.5,529.9 601.0,530.0 601.5,530.1 602.0,530.2 602.5,530.4 603.0,530.5 603.5,530.6" fill="none" stroke="#de7220" stroke-width="1.3" stroke-linejoin="round"/>
<path d="M76.0,529.6 76.5,529.5 77.0,529.4 77.5,529.3 78.0,529.2 78.5,529.1 79.0,529.0 79.5,528.8 80.0,528.7 80.5,528.6 81.0,528.5 81.5,528.4 82.0,528.3 82.5,528.1 83.0,528.0 83.5,527.9 84.0,527.8 84.5,527.6 85.0,527.5 85.5,527.4 86.0,527.3 86.5,527.1 87.0,527.0 87.5,526.9 88.0,526.7 88.5,526.6 89.0,526.5 89.5,526.3 90.0,526.2 90.5,526.0 91.0,525.9 91.5,525.7 92.0,525.6 92.5,525.4 93.0,525.3 93.5,525.1 94.0,524.9 94.5,524.8 95.0,524.6 95.5,524.4 96.0,524.3 96.5,524.1 97.0,523.9 97.5,523.7 98.0,523.5 98.5,523.4 99.0,523.2 99.5,523.0 100.0,522.8 100.5,522.6 101.0,522.4 101.5,522.1 102.0,521.9 102.5,521.7 103.0,521.5 103.5,521.3 104.0,521.0 104.5,520.8 105.0,520.6 105.5,520.3 106.0,520.1 106.5,519.8 107.0,519.6 107.5,519.3 108.0,519.1 108.5,518.8 109.0,518.5 109.5,518.2 110.0,518.0 110.5,517.7 111.0,517.4 111.5,517.1 112.0,516.8 112.5,516.5 113.0,516.2 113.5,515.8 114.0,515.5 114.5,515.2 115.0,514.9 115.5,514.5 116.0,514.2 116.5,513.8 117.0,513.5 117.5,513.1 118.0,512.7 118.5,512.4 119.0,512.0 119.5,511.6 120.0,511.2 120.5,510.8 121.0,510.4 121.5,510.0 122.0,509.6 122.5,509.1 123.0,508.7 123.5,508.3 124.0,507.8 124.5,507.4 125.0,506.9 125.5,506.5 126.0,506.0 126.5,505.5 127.0,505.0 127.5,504.5 128.0,504.0 128.5,503.5 129.0,503.0 129.5,502.5 130.0,501.9 130.5,501.4 131.0,500.9 131.5,500.3 132.0,499.7 132.5,499.2 133.0,498.6 133.5,498.0 134.0,497.4 134.5,496.8 135.0,496.2 135.5,495.6 136.0,495.0 136.5,494.3 137.0,493.7 137.5,493.0 138.0,492.4 138.5,491.7 139.0,491.0 139.5,490.3 140.0,489.6 140.5,488.9 141.0,488.2 141.5,487.5 142.0,486.8 142.5,486.0 143.0,485.3 143.5,484.5 144.0,483.7 144.5,483.0 145.0,482.2 145.5,481.4 146.0,480.6 146.5,479.7 147.0,478.9 147.5,478.1 148.0,477.2 148.5,476.4 149.0,475.5 149.5,474.6 150.0,473.7 150.5,472.8 151.0,471.9 151.5,471.0 152.0,470.1 152.5,469.1 153.0,468.2 153.5,467.2 154.0,466.2 154.5,465.3 155.0,464.3 155.5,463.3 156.0,462.3 156.5,461.2 157.0,460.2 157.5,459.2 158.0,458.1 158.5,457.1 159.0,456.0 159.5,454.9 160.0,453.9 160.5,452.8 161.0,451.7 161.5,450.6 162.0,449.5 162.5,448.4 163.0,447.3 163.5,446.2 164.0,445.1 164.5,444.0 165.0,442.8 165.5,441.7 166.0,440.6 166.5,439.5 167.0,438.3 167.5,437.2 168.0,436.0 168.5,434.9 169.0,433.8 169.5,432.6 170.0,431.5 170.5,430.3 171.0,429.2 171.5,428.0 172.0,426.9 172.5,425.8 173.0,424.6 173.5,423.5 174.0,422.3 174.5,421.2 175.0,420.1 175.5,418.9 176.0,417.8 176.5,416.7 177.0,415.5 177.5,414.4 178.0,413.3 178.5,412.2 179.0,411.1 179.5,410.0 180.0,408.9 180.5,407.8 181.0,406.7 181.5,405.6 182.0,404.6 182.5,403.5 183.0,402.4 183.5,401.4 184.0,400.3 184.5,399.3 185.0,398.3 185.5,397.3 186.0,396.3 186.5,395.3 187.0,394.3 187.5,393.3 188.0,392.3 188.5,391.4 189.0,390.4 189.5,389.5 190.0,388.6 190.5,387.6 191.0,386.7 191.5,385.9 192.0,385.0 192.5,384.1 193.0,383.3 193.5,382.5 194.0,381.6 194.5,380.8 195.0,380.1 195.5,379.3 196.0,378.5 196.5,377.8 197.0,377.1 197.5,376.4 198.0,375.7 198.5,375.0 199.0,374.3 199.5,373.7 200.0,373.1 200.5,372.4 201.0,371.8 201.5,371.2 202.0,370.7 202.5,370.1 203.0,369.6 203.5,369.0 204.0,368.5 204.5,368.0 205.0,367.5 205.5,367.0 206.0,366.6 206.5,366.1 207.0,365.7 207.5,365.3 208.0,364.9 208.5,364.5 209.0,364.1 209.5,363.7 210.0,363.4 210.5,363.0 211.0,362.7 211.5,362.4 212.0,362.0 212.5,361.7 213.0,361.5 213.5,361.2 214.0,360.9 214.5,360.7 215.0,360.4 215.5,360.2 216.0,360.0 216.5,359.8 217.0,359.6 217.5,359.4 218.0,359.3 218.5,359.1 219.0,358.9 219.5,358.8 220.0,358.7 220.5,358.5 221.0,358.4 221.5,358.3 222.0,358.2 222.5,358.1 223.0,358.1 223.5,358.0 224.0,357.9 224.5,357.9 225.0,357.8 225.5,357.8 226.0,357.7 226.5,357.7 227.0,357.6 227.5,357.6 228.0,357.6 228.5,357.6 229.0,357.6 229.5,357.5 230.0,357.5 230.5,357.5 231.0,357.5 231.5,357.5 232.0,357.5 232.5,357.5 233.0,357.5 233.5,357.5 234.0,357.6 234.5,357.6 235.0,357.6 235.5,357.6 236.0,357.6 236.5,357.6 237.0,357.6 237.5,357.6 238.0,357.6 238.5,357.6 239.0,357.6 239.5,357.6 240.0,357.6 240.5,357.6 241.0,357.6 241.5,357.6 242.0,357.6 242.5,357.6 243.0,357.6 243.5,357.6 244.0,357.6 244.5,357.6 245.0,357.6 245.5,357.6 246.0,357.6 246.5,357.6 247.0,357.6 247.5,357.6 248.0,357.6 248.5,357.5 249.0,357.5 249.5,357.5 250.0,357.5 250.5,357.5 251.0,357.5 251.5,357.5 252.0,357.5 252.5,357.5 253.0,357.4 253.5,357.4 254.0,357.4 254.5,357.4 255.0,357.4 255.5,357.4 256.0,357.4 256.5,357.4 257.0,357.3 257.5,357.3 258.0,357.3 258.5,357.3 259.0,357.3 259.5,357.3 260.0,357.3 260.5,357.3 261.0,357.2 261.5,357.2 262.0,357.2 262.5,357.2 263.0,357.2 263.5,357.2 264.0,357.2 264.5,357.2 265.0,357.2 265.5,357.2 266.0,357.1 266.5,357.1 267.0,357.1 267.5,357.1 268.0,357.1 268.5,357.1 269.0,357.1 269.5,357.1 270.0,357.1 270.5,357.1 271.0,357.1 271.5,357.0 272.0,357.0 272.5,357.0 273.0,357.0 273.5,357.0 274.0,357.0 274.5,357.0 275.0,356.9 275.5,356.9 276.0,356.9 276.5,356.9 277.0,356.8 277.5,356.8 278.0,356.8 278.5,356.8 279.0,356.7 279.5,356.7 280.0,356.6 280.5,356.6 281.0,356.6 281.5,356.5 282.0,356.5 282.5,356.4 283.0,356.4 283.5,356.3 284.0,356.2 284.5,356.2 285.0,356.1 285.5,356.0 286.0,356.0 286.5,355.9 287.0,355.8 287.5,355.7 288.0,355.6 288.5,355.5 289.0,355.4 289.5,355.3 290.0,355.2 290.5,355.1 291.0,355.0 291.5,354.9 292.0,354.8 292.5,354.7 293.0,354.5 293.5,354.4 294.0,354.3 294.5,354.1 295.0,354.0 295.5,353.8 296.0,353.6 296.5,353.5 297.0,353.3 297.5,353.1 298.0,353.0 298.5,352.8 299.0,352.6 299.5,352.4 300.0,352.2 300.5,352.0 301.0,351.8 301.5,351.5 302.0,351.3 302.5,351.1 303.0,350.9 303.5,350.6 304.0,350.4 304.5,350.1 305.0,349.9 305.5,349.6 306.0,349.4 306.5,349.1 307.0,348.8 307.5,348.5 308.0,348.3 308.5,348.0 309.0,347.7 309.5,347.4 310.0,347.1 310.5,346.7 311.0,346.4 311.5,346.1 312.0,345.8 312.5,345.4 313.0,345.1 313.5,344.7 314.0,344.4 314.5,344.0 315.0,343.7 315.5,343.3 316.0,342.9 316.5,342.5 317.0,342.2 317.5,341.8 318.0,341.4 318.5,341.0 319.0,340.6 319.5,340.1 320.0,339.7 320.5,339.3 321.0,338.9 321.5,338.5 322.0,338.0 322.5,337.6 323.0,337.1 323.5,336.7 324.0,336.3 324.5,335.8 325.0,335.4 325.5,334.9 326.0,334.4 326.5,334.0 327.0,333.5 327.5,333.0 328.0,332.6 328.5,332.1 329.0,331.6 329.5,331.1 330.0,330.6 330.5,330.1 331.0,329.7 331.5,329.2 332.0,328.7 332.5,328.2 333.0,327.7 333.5,327.2 334.0,326.7 334.5,326.2 335.0,325.7 335.5,325.2 336.0,324.6 336.5,324.1 337.0,323.6 337.5,323.1 338.0,322.6 338.5,322.1 339.0,321.6 339.5,321.0 340.0,320.5 340.5,320.0 341.0,319.5 341.5,319.0 342.0,318.4 342.5,317.9 343.0,317.4 343.5,316.9 344.0,316.3 344.5,315.8 345.0,315.3 345.5,314.8 346.0,314.2 346.5,313.7 347.0,313.2 347.5,312.7 348.0,312.1 348.5,311.6 349.0,311.1 349.5,310.6 350.0,310.1 350.5,309.6 351.0,309.1 351.5,308.6 352.0,308.1 352.5,307.6 353.0,307.1 353.5,306.6 354.0,306.1 354.5,305.6 355.0,305.1 355.5,304.7 356.0,304.2 356.5,303.7 357.0,303.3 357.5,302.8 358.0,302.4 358.5,301.9 359.0,301.5 359.5,301.1 360.0,300.7 360.5,300.3 361.0,299.9 361.5,299.5 362.0,299.1 362.5,298.7 363.0,298.3 363.5,297.9 364.0,297.6 364.5,297.2 365.0,296.9 365.5,296.6 366.0,296.2 366.5,295.9 367.0,295.6 367.5,295.3 368.0,295.0 368.5,294.8 369.0,294.5 369.5,294.3 370.0,294.0 370.5,293.8 371.0,293.6 371.5,293.4 372.0,293.2 372.5,293.0 373.0,292.8 373.5,292.6 374.0,292.5 374.5,292.4 375.0,292.2 375.5,292.1 376.0,292.0 376.5,292.0 377.0,291.9 377.5,291.8 378.0,291.8 378.5,291.8 379.0,291.8 379.5,291.8 380.0,291.8 380.5,291.8 381.0,291.9 381.5,292.0 382.0,292.1 382.5,292.2 383.0,292.3 383.5,292.4 384.0,292.6 384.5,292.7 385.0,292.9 385.5,293.1 386.0,293.3 386.5,293.6 387.0,293.8 387.5,294.1 388.0,294.4 388.5,294.7 389.0,295.1 389.5,295.4 390.0,295.8 390.5,296.2 391.0,296.6 391.5,297.0 392.0,297.5 392.5,297.9 393.0,298.4 393.5,298.9 394.0,299.5 394.5,300.0 395.0,300.6 395.5,301.2 396.0,301.8 396.5,302.5 397.0,303.1 397.5,303.8 398.0,304.5 398.5,305.2 399.0,306.0 399.5,306.7 400.0,307.5 400.5,308.3 401.0,309.1 401.5,310.0 402.0,310.8 402.5,311.7 403.0,312.6 403.5,313.5 404.0,314.4 404.5,315.3 405.0,316.2 405.5,317.2 406.0,318.2 406.5,319.2 407.0,320.2 407.5,321.2 408.0,322.2 408.5,323.2 409.0,324.3 409.5,325.3 410.0,326.4 410.5,327.5 411.0,328.6 411.5,329.7 412.0,330.8 412.5,331.9 413.0,333.1 413.5,334.2 414.0,335.4 414.5,336.5 415.0,337.7 415.5,338.9 416.0,340.1 416.5,341.3 417.0,342.5 417.5,343.7 418.0,344.9 418.5,346.1 419.0,347.3 419.5,348.6 420.0,349.8 420.5,351.0 421.0,352.3 421.5,353.5 422.0,354.8 422.5,356.0 423.0,357.3 423.5,358.5 424.0,359.8 424.5,361.1 425.0,362.3 425.5,363.6 426.0,364.8 426.5,366.1 427.0,367.4 427.5,368.6 428.0,369.9 428.5,371.2 429.0,372.4 429.5,373.7 430.0,374.9 430.5,376.2 431.0,377.4 431.5,378.7 432.0,379.9 432.5,381.2 433.0,382.4 433.5,383.7 434.0,384.9 434.5,386.1 435.0,387.3 435.5,388.5 436.0,389.7 436.5,390.9 437.0,392.1 437.5,393.3 438.0,394.5 438.5,395.7 439.0,396.9 439.5,398.0 440.0,399.2 440.5,400.4 441.0,401.5 441.5,402.6 442.0,403.8 442.5,404.9 443.0,406.1 443.5,407.2 444.0,408.3 444.5,409.4 445.0,410.5 445.5,411.6 446.0,412.7 446.5,413.8 447.0,414.9 447.5,416.0 448.0,417.1 448.5,418.2 449.0,419.2 449.5,420.3 450.0,421.4 450.5,422.4 451.0,423.5 451.5,424.5 452.0,425.5 452.5,426.6 453.0,427.6 453.5,428.6 454.0,429.7 454.5,430.7 455.0,431.7 455.5,432.7 456.0,433.7 456.5,434.7 457.0,435.7 457.5,436.7 458.0,437.7 458.5,438.6 459.0,439.6 459.5,440.6 460.0,441.6 460.5,442.5 461.0,443.5 461.5,444.4 462.0,445.4 462.5,446.3 463.0,447.3 463.5,448.2 464.0,449.1 464.5,450.1 465.0,451.0 465.5,451.9 466.0,452.8 466.5,453.7 467.0,454.7 467.5,455.6 468.0,456.5 468.5,457.3 469.0,458.2 469.5,459.1 470.0,460.0 470.5,460.9 471.0,461.7 471.5,462.6 472.0,463.5 472.5,464.3 473.0,465.2 473.5,466.0 474.0,466.8 474.5,467.7 475.0,468.5 475.5,469.3 476.0,470.1 476.5,471.0 477.0,471.8 477.5,472.6 478.0,473.4 478.5,474.1 479.0,474.9 479.5,475.7 480.0,476.5 480.5,477.2 481.0,478.0 481.5,478.8 482.0,479.5 482.5,480.2 483.0,481.0 483.5,481.7 484.0,482.4 484.5,483.2 485.0,483.9 485.5,484.6 486.0,485.3 486.5,486.0 487.0,486.6 487.5,487.3 488.0,488.0 488.5,488.7 489.0,489.3 489.5,490.0 490.0,490.6 490.5,491.3 491.0,491.9 491.5,492.5 492.0,493.2 492.5,493.8 493.0,494.4 493.5,495.0 494.0,495.6 494.5,496.2 495.0,496.8 495.5,497.3 496.0,497.9 496.5,498.5 497.0,499.0 497.5,499.6 498.0,500.1 498.5,500.7 499.0,501.2 499.5,501.8 500.0,502.3 500.5,502.8 501.0,503.3 501.5,503.8 502.0,504.3 502.5,504.8 503.0,505.3 503.5,505.8 504.0,506.3 504.5,506.7 505.0,507.2 505.5,507.7 506.0,508.1 506.5,508.6 507.0,509.0 507.5,509.5 508.0,509.9 508.5,510.3 509.0,510.7 509.5,511.2 510.0,511.6 510.5,512.0 511.0,512.4 511.5,512.8 512.0,513.2 512.5,513.6 513.0,514.0 513.5,514.3 514.0,514.7 514.5,515.1 515.0,515.4 515.5,515.8 516.0,516.1 516.5,516.5 517.0,516.8 517.5,517.2 518.0,517.5 518.5,517.8 519.0,518.2 519.5,518.5 520.0,518.8 520.5,519.1 521.0,519.4 521.5,519.7 522.0,520.0 522.5,520.3 523.0,520.6 523.5,520.9 524.0,521.1 524.5,521.4 525.0,521.7 525.5,522.0 526.0,522.2 526.5,522.5 527.0,522.7 527.5,523.0 528.0,523.2 528.5,523.5 529.0,523.7 529.5,523.9 530.0,524.2 530.5,524.4 531.0,524.6 531.5,524.8 532.0,525.0 532.5,525.2 533.0,525.4 533.5,525.6 534.0,525.8 534.5,526.0 535.0,526.2 535.5,526.4 536.0,526.6 536.5,526.8 537.0,526.9 537.5,527.1 538.0,527.3 538.5,527.4 539.0,527.6 539.5,527.8 540.0,527.9 540.5,528.1 541.0,528.2 541.5,528.4 542.0,528.5 542.5,528.6 543.0,528.8 543.5,528.9 544.0,529.0 544.5,529.2 545.0,529.3 545.5,529.4 546.0,529.5 546.5,529.6 547.0,529.7 547.5,529.8 548.0,529.9 548.5,530.0 549.0,530.1 549.5,530.2 550.0,530.3 550.5,530.4 551.0,530.5 551.5,530.6 552.0,530.7 552.5,530.7 553.0,530.8 553.5,530.8 554.0,530.8 554.5,530.8 555.0,530.8 555.5,530.8 556.0,530.8 556.5,530.8 557.0,530.8 557.5,530.8 558.0,530.8 558.5,530.8 559.0,530.8 559.5,530.8 560.0,530.8 560.5,530.8 561.0,530.8 561.5,530.8 562.0,530.8 562.5,530.8 563.0,530.8 563.5,530.8 564.0,530.8 564.5,530.8 565.0,530.8 565.5,530.8 566.0,530.8 566.5,530.8 567.0,530.8 567.5,530.8 568.0,530.8 568.5,530.8 569.0,530.8 569.5,530.8 570.0,530.8 570.5,530.8 571.0,530.8 571.5,530.8 572.0,530.8 572.5,530.8 573.0,530.8 573.5,530.8 574.0,530.8 574.5,530.8 575.0,530.8 575.5,530.8 576.0,530.8 576.5,530.8 577.0,530.8 577.5,530.8 578.0,530.8 578.5,530.8 579.0,530.8 579.5,530.8 580.0,530.8 580.5,530.8 581.0,530.8 581.5,530.8 582.0,530.8 582.5,530.8 583.0,530.8 583.5,530.8 584.0,530.8 584.5,530.8 585.0,530.8 585.5,530.8 586.0,530.8 586.5,530.8 587.0,530.8 587.5,530.8 588.0,530.8 588.5,530.8 589.0,530.8 589.5,530.8 590.0,530.8 590.5,530.8 591.0,530.8 591.5,530.8 592.0,530.8 592.5,530.8 593.0,530.8 593.5,530.8 594.0,530.8 594.5,530.8 595.0,530.8 595.5,530.8 596.0,530.8 596.5,530.8 597.0,530.8 597.5,530.8 598.0,530.8 598.5,530.7 599.0,530.7 599.5,530.7 600.0,530.6 600.5,530.6 601.0,530.6 601.5,530.6 602.0,530.5 602.5,530.5 603.0,530.5 603.5,530.4" fill="none" stroke="#8681bc" stroke-width="1.3" stroke-linejoin="round"/>
<path d="M103.0,530.5 103.5,530.5 104.0,530.6 104.5,530.6 105.0,530.6 105.5,530.6 106.0,530.7 106.5,530.7 107.0,530.7 107.5,530.7 108.0,530.8 108.5,530.8 109.0,530.8 109.5,530.8 110.0,530.8 110.5,530.8 111.0,530.8 111.5,530.8 112.0,530.8 112.5,530.8 113.0,530.8 113.5,530.8 114.0,530.8 114.5,530.8 115.0,530.8 115.5,530.8 116.0,530.8 116.5,530.8 117.0,530.8 117.5,530.8 118.0,530.8 118.5,530.8 119.0,530.8 119.5,530.8 120.0,530.7 120.5,530.7 121.0,530.7 121.5,530.7 122.0,530.6 122.5,530.6 123.0,530.6 123.5,530.5 124.0,530.5 124.5,530.5 125.0,530.4 125.5,530.4 126.0,530.3 126.5,530.3 127.0,530.2 127.5,530.2 128.0,530.1 128.5,530.1 129.0,530.0 129.5,530.0 130.0,529.9 130.5,529.8 131.0,529.8 131.5,529.7 132.0,529.6 132.5,529.6 133.0,529.5 133.5,529.4 134.0,529.3 134.5,529.3 135.0,529.2 135.5,529.1 136.0,529.0 136.5,528.9 137.0,528.8 137.5,528.7 138.0,528.6 138.5,528.5 139.0,528.4 139.5,528.3 140.0,528.2 140.5,528.1 141.0,528.0 141.5,527.8 142.0,527.7 142.5,527.6 143.0,527.5 143.5,527.3 144.0,527.2 144.5,527.1 145.0,526.9 145.5,526.8 146.0,526.7 146.5,526.5 147.0,526.4 147.5,526.2 148.0,526.1 148.5,525.9 149.0,525.7 149.5,525.6 150.0,525.4 150.5,525.2 151.0,525.1 151.5,524.9 152.0,524.7 152.5,524.5 153.0,524.4 153.5,524.2 154.0,524.0 154.5,523.8 155.0,523.6 155.5,523.4 156.0,523.2 156.5,523.0 157.0,522.8 157.5,522.6 158.0,522.3 158.5,522.1 159.0,521.9 159.5,521.7 160.0,521.4 160.5,521.2 161.0,521.0 161.5,520.7 162.0,520.5 162.5,520.2 163.0,520.0 163.5,519.7 164.0,519.5 164.5,519.2 165.0,519.0 165.5,518.7 166.0,518.4 166.5,518.1 167.0,517.9 167.5,517.6 168.0,517.3 168.5,517.0 169.0,516.7 169.5,516.4 170.0,516.1 170.5,515.8 171.0,515.5 171.5,515.2 172.0,514.9 172.5,514.6 173.0,514.2 173.5,513.9 174.0,513.6 174.5,513.2 175.0,512.9 175.5,512.6 176.0,512.2 176.5,511.9 177.0,511.5 177.5,511.1 178.0,510.8 178.5,510.4 179.0,510.0 179.5,509.7 180.0,509.3 180.5,508.9 181.0,508.5 181.5,508.1 182.0,507.7 182.5,507.3 183.0,506.9 183.5,506.5 184.0,506.1 184.5,505.7 185.0,505.2 185.5,504.8 186.0,504.4 186.5,504.0 187.0,503.5 187.5,503.1 188.0,502.6 188.5,502.2 189.0,501.7 189.5,501.2 190.0,500.8 190.5,500.3 191.0,499.8 191.5,499.3 192.0,498.8 192.5,498.3 193.0,497.8 193.5,497.3 194.0,496.8 194.5,496.3 195.0,495.8 195.5,495.2 196.0,494.7 196.5,494.1 197.0,493.6 197.5,493.0 198.0,492.5 198.5,491.9 199.0,491.3 199.5,490.8 200.0,490.2 200.5,489.6 201.0,489.0 201.5,488.4 202.0,487.8 202.5,487.1 203.0,486.5 203.5,485.9 204.0,485.3 204.5,484.6 205.0,484.0 205.5,483.3 206.0,482.6 206.5,482.0 207.0,481.3 207.5,480.6 208.0,479.9 208.5,479.2 209.0,478.5 209.5,477.8 210.0,477.0 210.5,476.3 211.0,475.6 211.5,474.8 212.0,474.0 212.5,473.3 213.0,472.5 213.5,471.7 214.0,470.9 214.5,470.2 215.0,469.4 215.5,468.6 216.0,467.7 216.5,466.9 217.0,466.1 217.5,465.3 218.0,464.4 218.5,463.6 219.0,462.8 219.5,461.9 220.0,461.1 220.5,460.2 221.0,459.4 221.5,458.5 222.0,457.6 222.5,456.8 223.0,455.9 223.5,455.1 224.0,454.2 224.5,453.3 225.0,452.4 225.5,451.6 226.0,450.7 226.5,449.8 227.0,448.9 227.5,448.1 228.0,447.2 228.5,446.3 229.0,445.4 229.5,444.6 230.0,443.7 230.5,442.8 231.0,442.0 231.5,441.1 232.0,440.2 232.5,439.4 233.0,438.5 233.5,437.7 234.0,436.8 234.5,436.0 235.0,435.1 235.5,434.3 236.0,433.5 236.5,432.6 237.0,431.8 237.5,431.0 238.0,430.2 238.5,429.4 239.0,428.6 239.5,427.8 240.0,427.0 240.5,426.2 241.0,425.4 241.5,424.6 242.0,423.9 242.5,423.1 243.0,422.4 243.5,421.6 244.0,420.9 244.5,420.1 245.0,419.4 245.5,418.7 246.0,418.0 246.5,417.3 247.0,416.6 247.5,415.9 248.0,415.2 248.5,414.5 249.0,413.8 249.5,413.2 250.0,412.5 250.5,411.8 251.0,411.2 251.5,410.5 252.0,409.9 252.5,409.3 253.0,408.6 253.5,408.0 254.0,407.4 254.5,406.8 255.0,406.2 255.5,405.6 256.0,405.0 256.5,404.4 257.0,403.8 257.5,403.2 258.0,402.6 258.5,402.0 259.0,401.5 259.5,400.9 260.0,400.4 260.5,399.8 261.0,399.3 261.5,398.7 262.0,398.2 262.5,397.6 263.0,397.1 263.5,396.6 264.0,396.1 264.5,395.6 265.0,395.0 265.5,394.5 266.0,394.0 266.5,393.5 267.0,393.0 267.5,392.6 268.0,392.1 268.5,391.6 269.0,391.1 269.5,390.6 270.0,390.2 270.5,389.7 271.0,389.3 271.5,388.8 272.0,388.3 272.5,387.9 273.0,387.5 273.5,387.0 274.0,386.6 274.5,386.1 275.0,385.7 275.5,385.3 276.0,384.9 276.5,384.4 277.0,384.0 277.5,383.6 278.0,383.2 278.5,382.8 279.0,382.4 279.5,382.0 280.0,381.6 280.5,381.2 281.0,380.8 281.5,380.4 282.0,380.0 282.5,379.6 283.0,379.2 283.5,378.8 284.0,378.4 284.5,378.0 285.0,377.6 285.5,377.2 286.0,376.8 286.5,376.4 287.0,376.0 287.5,375.6 288.0,375.2 288.5,374.8 289.0,374.4 289.5,374.0 290.0,373.5 290.5,373.1 291.0,372.7 291.5,372.2 292.0,371.8 292.5,371.4 293.0,370.9 293.5,370.5 294.0,370.0 294.5,369.6 295.0,369.1 295.5,368.6 296.0,368.1 296.5,367.6 297.0,367.1 297.5,366.6 298.0,366.1 298.5,365.6 299.0,365.1 299.5,364.6 300.0,364.0 300.5,363.5 301.0,362.9 301.5,362.3 302.0,361.8 302.5,361.2 303.0,360.6 303.5,360.0 304.0,359.5 304.5,358.9 305.0,358.3 305.5,357.7 306.0,357.1 306.5,356.5 307.0,356.0 307.5,355.4 308.0,354.8 308.5,354.3 309.0,353.7 309.5,353.2 310.0,352.7 310.5,352.2 311.0,351.7 311.5,351.2 312.0,350.7 312.5,350.3 313.0,349.8 313.5,349.4 314.0,349.0 314.5,348.6 315.0,348.2 315.5,347.8 316.0,347.5 316.5,347.1 317.0,346.8 317.5,346.5 318.0,346.2 318.5,345.9 319.0,345.6 319.5,345.4 320.0,345.1 320.5,344.9 321.0,344.6 321.5,344.4 322.0,344.2 322.5,344.0 323.0,343.9 323.5,343.7 324.0,343.5 324.5,343.4 325.0,343.3 325.5,343.1 326.0,343.0 326.5,342.9 327.0,342.8 327.5,342.7 328.0,342.6 328.5,342.6 329.0,342.5 329.5,342.5 330.0,342.4 330.5,342.4 331.0,342.4 331.5,342.4 332.0,342.3 332.5,342.3 333.0,342.3 333.5,342.4 334.0,342.4 334.5,342.4 335.0,342.4 335.5,342.5 336.0,342.5 336.5,342.6 337.0,342.6 337.5,342.7 338.0,342.7 338.5,342.8 339.0,342.9 339.5,343.0 340.0,343.1 340.5,343.1 341.0,343.2 341.5,343.3 342.0,343.4 342.5,343.5 343.0,343.6 343.5,343.7 344.0,343.9 344.5,344.0 345.0,344.1 345.5,344.2 346.0,344.3 346.5,344.4 347.0,344.6 347.5,344.7 348.0,344.8 348.5,344.9 349.0,345.1 349.5,345.2 350.0,345.3 350.5,345.5 351.0,345.6 351.5,345.7 352.0,345.8 352.5,346.0 353.0,346.1 353.5,346.2 354.0,346.3 354.5,346.5 355.0,346.6 355.5,346.7 356.0,346.8 356.5,346.9 357.0,347.0 357.5,347.1 358.0,347.2 358.5,347.3 359.0,347.4 359.5,347.5 360.0,347.6 360.5,347.7 361.0,347.8 361.5,347.9 362.0,347.9 362.5,348.0 363.0,348.1 363.5,348.1 364.0,348.2 364.5,348.2 365.0,348.3 365.5,348.3 366.0,348.3 366.5,348.3 367.0,348.4 367.5,348.4 368.0,348.4 368.5,348.4 369.0,348.3 369.5,348.3 370.0,348.3 370.5,348.2 371.0,348.2 371.5,348.1 372.0,348.1 372.5,348.0 373.0,347.9 373.5,347.8 374.0,347.7 374.5,347.6 375.0,347.5 375.5,347.4 376.0,347.3 376.5,347.1 377.0,347.0 377.5,346.8 378.0,346.7 378.5,346.5 379.0,346.3 379.5,346.1 380.0,345.9 380.5,345.7 381.0,345.5 381.5,345.3 382.0,345.0 382.5,344.8 383.0,344.5 383.5,344.3 384.0,344.0 384.5,343.7 385.0,343.4 385.5,343.1 386.0,342.8 386.5,342.5 387.0,342.2 387.5,341.9 388.0,341.5 388.5,341.2 389.0,340.8 389.5,340.4 390.0,340.0 390.5,339.7 391.0,339.3 391.5,338.9 392.0,338.4 392.5,338.0 393.0,337.6 393.5,337.1 394.0,336.7 394.5,336.2 395.0,335.7 395.5,335.3 396.0,334.8 396.5,334.3 397.0,333.8 397.5,333.2 398.0,332.7 398.5,332.2 399.0,331.6 399.5,331.1 400.0,330.5 400.5,329.9 401.0,329.3 401.5,328.7 402.0,328.1 402.5,327.5 403.0,326.9 403.5,326.2 404.0,325.6 404.5,324.9 405.0,324.3 405.5,323.6 406.0,322.9 406.5,322.2 407.0,321.5 407.5,320.8 408.0,320.0 408.5,319.3 409.0,318.6 409.5,317.8 410.0,317.0 410.5,316.3 411.0,315.5 411.5,314.7 412.0,313.9 412.5,313.0 413.0,312.2 413.5,311.4 414.0,310.5 414.5,309.7 415.0,308.8 415.5,308.0 416.0,307.1 416.5,306.2 417.0,305.3 417.5,304.5 418.0,303.6 418.5,302.7 419.0,301.8 419.5,300.9 420.0,300.1 420.5,299.2 421.0,298.3 421.5,297.4 422.0,296.6 422.5,295.7 423.0,294.9 423.5,294.0 424.0,293.2 424.5,292.4 425.0,291.6 425.5,290.8 426.0,290.0 426.5,289.2 427.0,288.4 427.5,287.7 428.0,287.0 428.5,286.2 429.0,285.5 429.5,284.9 430.0,284.2 430.5,283.6 431.0,282.9 431.5,282.3 432.0,281.7 432.5,281.2 433.0,280.7 433.5,280.2 434.0,279.7 434.5,279.2 435.0,278.8 435.5,278.4 436.0,278.0 436.5,277.7 437.0,277.3 437.5,277.1 438.0,276.8 438.5,276.6 439.0,276.4 439.5,276.2 440.0,276.1 440.5,276.0 441.0,275.9 441.5,275.9 442.0,275.9 442.5,275.9 443.0,275.9 443.5,276.0 444.0,276.1 444.5,276.3 445.0,276.4 445.5,276.6 446.0,276.8 446.5,277.1 447.0,277.4 447.5,277.7 448.0,278.0 448.5,278.4 449.0,278.8 449.5,279.2 450.0,279.7 450.5,280.1 451.0,280.6 451.5,281.2 452.0,281.7 452.5,282.3 453.0,283.0 453.5,283.6 454.0,284.3 454.5,285.0 455.0,285.7 455.5,286.5 456.0,287.3 456.5,288.1 457.0,288.9 457.5,289.8 458.0,290.7 458.5,291.6 459.0,292.5 459.5,293.5 460.0,294.5 460.5,295.4 461.0,296.5 461.5,297.5 462.0,298.6 462.5,299.6 463.0,300.7 463.5,301.8 464.0,302.9 464.5,304.1 465.0,305.2 465.5,306.4 466.0,307.6 466.5,308.8 467.0,310.0 467.5,311.2 468.0,312.5 468.5,313.7 469.0,315.0 469.5,316.2 470.0,317.5 470.5,318.8 471.0,320.1 471.5,321.4 472.0,322.7 472.5,324.0 473.0,325.3 473.5,326.7 474.0,328.0 474.5,329.3 475.0,330.7 475.5,332.0 476.0,333.3 476.5,334.7 477.0,336.0 477.5,337.4 478.0,338.7 478.5,340.1 479.0,341.4 479.5,342.8 480.0,344.1 480.5,345.4 481.0,346.8 481.5,348.1 482.0,349.4 482.5,350.7 483.0,352.1 483.5,353.4 484.0,354.7 484.5,355.9 485.0,357.2 485.5,358.5 486.0,359.8 486.5,361.0 487.0,362.3 487.5,363.5 488.0,364.8 488.5,366.0 489.0,367.2 489.5,368.4 490.0,369.6 490.5,370.8 491.0,372.0 491.5,373.2 492.0,374.4 492.5,375.6 493.0,376.7 493.5,377.9 494.0,379.0 494.5,380.2 495.0,381.3 495.5,382.4 496.0,383.6 496.5,384.7 497.0,385.8 497.5,386.9 498.0,388.0 498.5,389.1 499.0,390.2 499.5,391.3 500.0,392.3 500.5,393.4 501.0,394.5 501.5,395.5 502.0,396.6 502.5,397.6 503.0,398.7 503.5,399.7 504.0,400.7 504.5,401.8 505.0,402.8 505.5,403.8 506.0,404.8 506.5,405.8 507.0,406.8 507.5,407.8 508.0,408.8 508.5,409.8 509.0,410.7 509.5,411.7 510.0,412.7 510.5,413.6 511.0,414.6 511.5,415.6 512.0,416.5 512.5,417.4 513.0,418.4 513.5,419.3 514.0,420.3 514.5,421.2 515.0,422.1 515.5,423.0 516.0,423.9 516.5,424.8 517.0,425.8 517.5,426.7 518.0,427.6 518.5,428.5 519.0,429.3 519.5,430.2 520.0,431.1 520.5,432.0 521.0,432.9 521.5,433.7 522.0,434.6 522.5,435.5 523.0,436.4 523.5,437.2 524.0,438.1 524.5,438.9 525.0,439.8 525.5,440.6 526.0,441.5 526.5,442.3 527.0,443.2 527.5,444.0 528.0,444.8 528.5,445.7 529.0,446.5 529.5,447.3 530.0,448.1 530.5,449.0 531.0,449.8 531.5,450.6 532.0,451.4 532.5,452.2 533.0,453.1 533.5,453.9 534.0,454.7 534.5,455.5 535.0,456.3 535.5,457.1 536.0,457.9 536.5,458.7 537.0,459.5 537.5,460.3 538.0,461.1 538.5,461.9 539.0,462.7 539.5,463.5 540.0,464.3 540.5,465.0 541.0,465.8 541.5,466.6 542.0,467.4 542.5,468.2 543.0,469.0 543.5,469.8 544.0,470.5 544.5,471.3 545.0,472.1 545.5,472.9 546.0,473.7 546.5,474.4 547.0,475.2 547.5,476.0 548.0,476.8 548.5,477.5 549.0,478.3 549.5,479.1 550.0,479.8 550.5,480.6 551.0,481.3 551.5,482.1 552.0,482.8 552.5,483.6 553.0,484.3 553.5,485.1 554.0,485.8 554.5,486.6 555.0,487.3 555.5,488.0 556.0,488.7 556.5,489.5 557.0,490.2 557.5,490.9 558.0,491.6 558.5,492.3 559.0,493.0 559.5,493.7 560.0,494.4 560.5,495.1 561.0,495.8 561.5,496.5 562.0,497.2 562.5,497.8 563.0,498.5 563.5,499.2 564.0,499.8 564.5,500.5 565.0,501.1 565.5,501.8 566.0,502.4 566.5,503.0 567.0,503.6 567.5,504.3 568.0,504.9 568.5,505.5 569.0,506.1 569.5,506.7 570.0,507.3 570.5,507.8 571.0,508.4 571.5,509.0 572.0,509.6 572.5,510.1 573.0,510.7 573.5,511.2 574.0,511.7 574.5,512.3 575.0,512.8 575.5,513.3 576.0,513.8 576.5,514.3 577.0,514.8 577.5,515.3 578.0,515.8 578.5,516.2 579.0,516.7 579.5,517.1 580.0,517.6 580.5,518.0 581.0,518.4 581.5,518.9 582.0,519.3 582.5,519.7 583.0,520.1 583.5,520.4 584.0,520.8 584.5,521.2 585.0,521.5 585.5,521.9 586.0,522.2 586.5,522.5 587.0,522.9 587.5,523.2 588.0,523.5 588.5,523.8 589.0,524.0 589.5,524.3 590.0,524.6 590.5,524.8 591.0,525.1 591.5,525.3 592.0,525.5 592.5,525.7 593.0,525.9 593.5,526.1 594.0,526.3 594.5,526.4 595.0,526.6 595.5,526.7 596.0,526.8 596.5,527.0 597.0,527.1 597.5,527.2 598.0,527.2 598.5,527.3 599.0,527.4 599.5,527.4 600.0,527.4 600.5,527.5 601.0,527.5 601.5,527.5 602.0,527.5 602.5,527.4 603.0,527.4 603.5,527.3" fill="none" stroke="#ea4398" stroke-width="1.3" stroke-linejoin="round"/>
<path d="M76.0,529.5 76.5,529.4 77.0,529.4 77.5,529.3 78.0,529.2 78.5,529.2 79.0,529.1 79.5,529.0 80.0,528.9 80.5,528.9 81.0,528.8 81.5,528.7 82.0,528.6 82.5,528.6 83.0,528.5 83.5,528.4 84.0,528.4 84.5,528.3 85.0,528.2 85.5,528.2 86.0,528.1 86.5,528.0 87.0,527.9 87.5,527.9 88.0,527.8 88.5,527.7 89.0,527.7 89.5,527.6 90.0,527.5 90.5,527.4 91.0,527.3 91.5,527.3 92.0,527.2 92.5,527.1 93.0,527.0 93.5,527.0 94.0,526.9 94.5,526.8 95.0,526.7 95.5,526.6 96.0,526.5 96.5,526.4 97.0,526.3 97.5,526.2 98.0,526.1 98.5,526.1 99.0,526.0 99.5,525.9 100.0,525.7 100.5,525.6 101.0,525.5 101.5,525.4 102.0,525.3 102.5,525.2 103.0,525.1 103.5,525.0 104.0,524.8 104.5,524.7 105.0,524.6 105.5,524.5 106.0,524.3 106.5,524.2 107.0,524.1 107.5,523.9 108.0,523.8 108.5,523.6 109.0,523.5 109.5,523.3 110.0,523.2 110.5,523.0 111.0,522.9 111.5,522.7 112.0,522.5 112.5,522.4 113.0,522.2 113.5,522.0 114.0,521.8 114.5,521.6 115.0,521.4 115.5,521.2 116.0,521.0 116.5,520.8 117.0,520.6 117.5,520.4 118.0,520.2 118.5,520.0 119.0,519.8 119.5,519.5 120.0,519.3 120.5,519.1 121.0,518.8 121.5,518.6 122.0,518.3 122.5,518.1 123.0,517.8 123.5,517.5 124.0,517.3 124.5,517.0 125.0,516.7 125.5,516.4 126.0,516.1 126.5,515.8 127.0,515.5 127.5,515.2 128.0,514.9 128.5,514.6 129.0,514.3 129.5,513.9 130.0,513.6 130.5,513.3 131.0,512.9 131.5,512.6 132.0,512.2 132.5,511.8 133.0,511.5 133.5,511.1 134.0,510.7 134.5,510.3 135.0,509.9 135.5,509.5 136.0,509.1 136.5,508.7 137.0,508.3 137.5,507.9 138.0,507.4 138.5,507.0 139.0,506.5 139.5,506.1 140.0,505.6 140.5,505.1 141.0,504.7 141.5,504.2 142.0,503.7 142.5,503.2 143.0,502.7 143.5,502.2 144.0,501.7 144.5,501.1 145.0,500.6 145.5,500.1 146.0,499.5 146.5,499.0 147.0,498.4 147.5,497.8 148.0,497.2 148.5,496.6 149.0,496.1 149.5,495.4 150.0,494.8 150.5,494.2 151.0,493.6 151.5,492.9 152.0,492.3 152.5,491.6 153.0,491.0 153.5,490.3 154.0,489.6 154.5,488.9 155.0,488.2 155.5,487.5 156.0,486.8 156.5,486.1 157.0,485.4 157.5,484.6 158.0,483.9 158.5,483.1 159.0,482.3 159.5,481.5 160.0,480.8 160.5,480.0 161.0,479.1 161.5,478.3 162.0,477.5 162.5,476.7 163.0,475.8 163.5,475.0 164.0,474.1 164.5,473.2 165.0,472.3 165.5,471.4 166.0,470.5 166.5,469.6 167.0,468.7 167.5,467.7 168.0,466.8 168.5,465.8 169.0,464.9 169.5,463.9 170.0,462.9 170.5,461.9 171.0,460.9 171.5,459.8 172.0,458.8 172.5,457.8 173.0,456.7 173.5,455.6 174.0,454.5 174.5,453.5 175.0,452.3 175.5,451.2 176.0,450.1 176.5,449.0 177.0,447.8 177.5,446.6 178.0,445.5 178.5,444.3 179.0,443.1 179.5,441.8 180.0,440.6 180.5,439.4 181.0,438.1 181.5,436.8 182.0,435.6 182.5,434.3 183.0,433.0 183.5,431.6 184.0,430.3 184.5,429.0 185.0,427.6 185.5,426.2 186.0,424.8 186.5,423.4 187.0,422.0 187.5,420.6 188.0,419.1 188.5,417.7 189.0,416.2 189.5,414.7 190.0,413.2 190.5,411.7 191.0,410.3 191.5,408.8 192.0,407.3 192.5,405.8 193.0,404.3 193.5,402.8 194.0,401.3 194.5,399.8 195.0,398.4 195.5,396.9 196.0,395.5 196.5,394.0 197.0,392.6 197.5,391.2 198.0,389.8 198.5,388.5 199.0,387.1 199.5,385.8 200.0,384.5 200.5,383.2 201.0,382.0 201.5,380.7 202.0,379.5 202.5,378.3 203.0,377.2 203.5,376.0 204.0,374.9 204.5,373.8 205.0,372.7 205.5,371.6 206.0,370.6 206.5,369.5 207.0,368.5 207.5,367.4 208.0,366.4 208.5,365.4 209.0,364.4 209.5,363.3 210.0,362.3 210.5,361.3 211.0,360.3 211.5,359.3 212.0,358.3 212.5,357.3 213.0,356.3 213.5,355.3 214.0,354.2 214.5,353.2 215.0,352.2 215.5,351.1 216.0,350.0 216.5,349.0 217.0,347.9 217.5,346.8 218.0,345.7 218.5,344.6 219.0,343.4 219.5,342.3 220.0,341.2 220.5,340.1 221.0,339.0 221.5,337.9 222.0,336.8 222.5,335.7 223.0,334.6 223.5,333.6 224.0,332.5 224.5,331.5 225.0,330.5 225.5,329.5 226.0,328.5 226.5,327.6 227.0,326.7 227.5,325.7 228.0,324.9 228.5,324.0 229.0,323.1 229.5,322.3 230.0,321.5 230.5,320.7 231.0,319.9 231.5,319.2 232.0,318.4 232.5,317.7 233.0,317.0 233.5,316.3 234.0,315.6 234.5,315.0 235.0,314.3 235.5,313.7 236.0,313.1 236.5,312.5 237.0,311.9 237.5,311.3 238.0,310.8 238.5,310.2 239.0,309.7 239.5,309.2 240.0,308.7 240.5,308.2 241.0,307.7 241.5,307.3 242.0,306.8 242.5,306.4 243.0,306.0 243.5,305.5 244.0,305.1 244.5,304.7 245.0,304.4 245.5,304.0 246.0,303.6 246.5,303.3 247.0,302.9 247.5,302.6 248.0,302.2 248.5,301.9 249.0,301.6 249.5,301.3 250.0,301.0 250.5,300.7 251.0,300.4 251.5,300.2 252.0,299.9 252.5,299.6 253.0,299.4 253.5,299.1 254.0,298.9 254.5,298.6 255.0,298.4 255.5,298.2 256.0,297.9 256.5,297.7 257.0,297.5 257.5,297.3 258.0,297.1 258.5,296.9 259.0,296.7 259.5,296.5 260.0,296.3 260.5,296.1 261.0,295.9 261.5,295.7 262.0,295.5 262.5,295.3 263.0,295.1 263.5,294.9 264.0,294.7 264.5,294.5 265.0,294.3 265.5,294.1 266.0,293.9 266.5,293.7 267.0,293.5 267.5,293.3 268.0,293.1 268.5,292.9 269.0,292.7 269.5,292.5 270.0,292.3 270.5,292.0 271.0,291.8 271.5,291.6 272.0,291.4 272.5,291.1 273.0,290.9 273.5,290.6 274.0,290.4 274.5,290.1 275.0,289.9 275.5,289.6 276.0,289.3 276.5,289.0 277.0,288.7 277.5,288.4 278.0,288.2 278.5,287.8 279.0,287.5 279.5,287.2 280.0,286.9 280.5,286.6 281.0,286.3 281.5,286.0 282.0,285.6 282.5,285.3 283.0,285.0 283.5,284.6 284.0,284.3 284.5,284.0 285.0,283.6 285.5,283.3 286.0,282.9 286.5,282.6 287.0,282.3 287.5,281.9 288.0,281.6 288.5,281.2 289.0,280.9 289.5,280.6 290.0,280.2 290.5,279.9 291.0,279.5 291.5,279.2 292.0,278.9 292.5,278.6 293.0,278.2 293.5,277.9 294.0,277.6 294.5,277.3 295.0,277.0 295.5,276.7 296.0,276.4 296.5,276.1 297.0,275.8 297.5,275.5 298.0,275.2 298.5,275.0 299.0,274.7 299.5,274.4 300.0,274.2 300.5,273.9 301.0,273.7 301.5,273.5 302.0,273.2 302.5,273.0 303.0,272.8 303.5,272.6 304.0,272.4 304.5,272.2 305.0,272.1 305.5,271.9 306.0,271.7 306.5,271.6 307.0,271.5 307.5,271.3 308.0,271.2 308.5,271.1 309.0,271.0 309.5,271.0 310.0,270.9 310.5,270.9 311.0,270.8 311.5,270.8 312.0,270.8 312.5,270.8 313.0,270.8 313.5,270.8 314.0,270.8 314.5,270.9 315.0,271.0 315.5,271.1 316.0,271.2 316.5,271.3 317.0,271.4 317.5,271.5 318.0,271.7 318.5,271.9 319.0,272.1 319.5,272.3 320.0,272.5 320.5,272.7 321.0,273.0 321.5,273.2 322.0,273.5 322.5,273.8 323.0,274.1 323.5,274.4 324.0,274.8 324.5,275.2 325.0,275.5 325.5,275.9 326.0,276.3 326.5,276.8 327.0,277.2 327.5,277.7 328.0,278.2 328.5,278.6 329.0,279.2 329.5,279.7 330.0,280.2 330.5,280.8 331.0,281.4 331.5,282.0 332.0,282.6 332.5,283.2 333.0,283.9 333.5,284.6 334.0,285.3 334.5,286.0 335.0,286.7 335.5,287.4 336.0,288.2 336.5,289.0 337.0,289.8 337.5,290.6 338.0,291.4 338.5,292.2 339.0,293.0 339.5,293.9 340.0,294.8 340.5,295.6 341.0,296.5 341.5,297.4 342.0,298.3 342.5,299.2 343.0,300.1 343.5,301.0 344.0,302.0 344.5,302.9 345.0,303.8 345.5,304.7 346.0,305.7 346.5,306.6 347.0,307.5 347.5,308.5 348.0,309.4 348.5,310.3 349.0,311.3 349.5,312.2 350.0,313.1 350.5,314.0 351.0,314.9 351.5,315.8 352.0,316.7 352.5,317.6 353.0,318.4 353.5,319.3 354.0,320.2 354.5,321.0 355.0,321.8 355.5,322.6 356.0,323.5 356.5,324.2 357.0,325.0 357.5,325.8 358.0,326.5 358.5,327.2 359.0,327.9 359.5,328.6 360.0,329.3 360.5,329.9 361.0,330.6 361.5,331.2 362.0,331.8 362.5,332.3 363.0,332.9 363.5,333.4 364.0,333.9 364.5,334.3 365.0,334.8 365.5,335.2 366.0,335.6 366.5,336.0 367.0,336.4 367.5,336.7 368.0,337.1 368.5,337.4 369.0,337.7 369.5,338.0 370.0,338.3 370.5,338.5 371.0,338.8 371.5,339.0 372.0,339.2 372.5,339.4 373.0,339.6 373.5,339.8 374.0,340.0 374.5,340.2 375.0,340.3 375.5,340.5 376.0,340.6 376.5,340.7 377.0,340.9 377.5,341.0 378.0,341.1 378.5,341.2 379.0,341.3 379.5,341.4 380.0,341.6 380.5,341.7 381.0,341.8 381.5,341.9 382.0,342.0 382.5,342.0 383.0,342.1 383.5,342.2 384.0,342.4 384.5,342.5 385.0,342.6 385.5,342.7 386.0,342.8 386.5,342.9 387.0,343.0 387.5,343.2 388.0,343.3 388.5,343.5 389.0,343.6 389.5,343.8 390.0,344.0 390.5,344.1 391.0,344.3 391.5,344.5 392.0,344.7 392.5,345.0 393.0,345.2 393.5,345.5 394.0,345.7 394.5,346.0 395.0,346.3 395.5,346.6 396.0,347.0 396.5,347.3 397.0,347.7 397.5,348.0 398.0,348.4 398.5,348.8 399.0,349.3 399.5,349.7 400.0,350.1 400.5,350.6 401.0,351.1 401.5,351.6 402.0,352.1 402.5,352.7 403.0,353.2 403.5,353.8 404.0,354.3 404.5,354.9 405.0,355.5 405.5,356.2 406.0,356.8 406.5,357.5 407.0,358.1 407.5,358.8 408.0,359.5 408.5,360.2 409.0,361.0 409.5,361.7 410.0,362.5 410.5,363.3 411.0,364.0 411.5,364.9 412.0,365.7 412.5,366.5 413.0,367.4 413.5,368.2 414.0,369.1 414.5,370.0 415.0,370.9 415.5,371.9 416.0,372.8 416.5,373.8 417.0,374.7 417.5,375.7 418.0,376.7 418.5,377.8 419.0,378.8 419.5,379.8 420.0,380.9 420.5,382.0 421.0,383.1 421.5,384.2 422.0,385.3 422.5,386.4 423.0,387.6 423.5,388.7 424.0,389.9 424.5,391.1 425.0,392.3 425.5,393.5 426.0,394.7 426.5,395.9 427.0,397.1 427.5,398.4 428.0,399.6 428.5,400.8 429.0,402.1 429.5,403.4 430.0,404.6 430.5,405.9 431.0,407.2 431.5,408.5 432.0,409.8 432.5,411.1 433.0,412.4 433.5,413.7 434.0,415.0 434.5,416.3 435.0,417.6 435.5,418.9 436.0,420.2 436.5,421.5 437.0,422.8 437.5,424.2 438.0,425.5 438.5,426.8 439.0,428.1 439.5,429.4 440.0,430.7 440.5,432.0 441.0,433.4 441.5,434.7 442.0,436.0 442.5,437.3 443.0,438.6 443.5,439.9 444.0,441.1 444.5,442.4 445.0,443.7 445.5,445.0 446.0,446.3 446.5,447.5 447.0,448.8 447.5,450.0 448.0,451.3 448.5,452.5 449.0,453.8 449.5,455.0 450.0,456.2 450.5,457.4 451.0,458.6 451.5,459.8 452.0,461.0 452.5,462.2 453.0,463.3 453.5,464.5 454.0,465.6 454.5,466.8 455.0,467.9 455.5,469.0 456.0,470.1 456.5,471.2 457.0,472.2 457.5,473.3 458.0,474.3 458.5,475.4 459.0,476.4 459.5,477.4 460.0,478.4 460.5,479.3 461.0,480.3 461.5,481.3 462.0,482.2 462.5,483.1 463.0,484.0 463.5,484.9 464.0,485.7 464.5,486.6 465.0,487.4 465.5,488.2 466.0,489.0 466.5,489.8 467.0,490.5 467.5,491.2 468.0,492.0 468.5,492.7 469.0,493.3 469.5,494.0 470.0,494.7 470.5,495.3 471.0,495.9 471.5,496.5 472.0,497.1 472.5,497.7 473.0,498.3 473.5,498.8 474.0,499.3 474.5,499.9 475.0,500.4 475.5,500.9 476.0,501.4 476.5,501.9 477.0,502.3 477.5,502.8 478.0,503.2 478.5,503.7 479.0,504.1 479.5,504.5 480.0,504.9 480.5,505.3 481.0,505.7 481.5,506.1 482.0,506.5 482.5,506.8 483.0,507.2 483.5,507.5 484.0,507.9 484.5,508.2 485.0,508.6 485.5,508.9 486.0,509.2 486.5,509.6 487.0,509.9 487.5,510.2 488.0,510.5 488.5,510.8 489.0,511.1 489.5,511.4 490.0,511.7 490.5,512.0 491.0,512.3 491.5,512.6 492.0,512.9 492.5,513.2 493.0,513.5 493.5,513.7 494.0,514.0 494.5,514.3 495.0,514.6 495.5,514.8 496.0,515.1 496.5,515.3 497.0,515.6 497.5,515.9 498.0,516.1 498.5,516.4 499.0,516.6 499.5,516.9 500.0,517.1 500.5,517.3 501.0,517.6 501.5,517.8 502.0,518.0 502.5,518.3 503.0,518.5 503.5,518.7 504.0,518.9 504.5,519.2 505.0,519.4 505.5,519.6 506.0,519.8 506.5,520.0 507.0,520.2 507.5,520.4 508.0,520.6 508.5,520.8 509.0,521.0 509.5,521.2 510.0,521.4 510.5,521.6 511.0,521.8 511.5,522.0 512.0,522.1 512.5,522.3 513.0,522.5 513.5,522.7 514.0,522.8 514.5,523.0 515.0,523.2 515.5,523.3 516.0,523.5 516.5,523.7 517.0,523.8 517.5,524.0 518.0,524.1 518.5,524.3 519.0,524.4 519.5,524.6 520.0,524.7 520.5,524.9 521.0,525.0 521.5,525.1 522.0,525.3 522.5,525.4 523.0,525.5 523.5,525.7 524.0,525.8 524.5,525.9 525.0,526.1 525.5,526.2 526.0,526.3 526.5,526.4 527.0,526.5 527.5,526.6 528.0,526.8 528.5,526.9 529.0,527.0 529.5,527.1 530.0,527.2 530.5,527.3 531.0,527.4 531.5,527.5 532.0,527.6 532.5,527.7 533.0,527.8 533.5,527.9 534.0,528.0 534.5,528.1 535.0,528.1 535.5,528.2 536.0,528.3 536.5,528.4 537.0,528.5 537.5,528.6 538.0,528.6 538.5,528.7 539.0,528.8 539.5,528.9 540.0,528.9 540.5,529.0 541.0,529.1 541.5,529.1 542.0,529.2 542.5,529.3 543.0,529.3 543.5,529.4 544.0,529.4 544.5,529.5 545.0,529.6 545.5,529.6 546.0,529.7 546.5,529.7 547.0,529.8 547.5,529.8 548.0,529.9 548.5,529.9 549.0,530.0 549.5,530.0 550.0,530.1 550.5,530.1 551.0,530.1 551.5,530.2 552.0,530.2 552.5,530.3 553.0,530.3 553.5,530.3 554.0,530.4 554.5,530.4 555.0,530.4 555.5,530.5 556.0,530.5 556.5,530.5 557.0,530.5 557.5,530.6 558.0,530.6 558.5,530.6 559.0,530.6 559.5,530.7 560.0,530.7 560.5,530.7 561.0,530.7 561.5,530.7 562.0,530.8 562.5,530.8 563.0,530.8 563.5,530.8 564.0,530.8 564.5,530.8 565.0,530.8 565.5,530.8 566.0,530.8 566.5,530.8 567.0,530.8 567.5,530.8 568.0,530.8 568.5,530.8 569.0,530.8 569.5,530.8 570.0,530.8 570.5,530.8 571.0,530.8 571.5,530.8 572.0,530.8 572.5,530.8 573.0,530.8 573.5,530.8 574.0,530.8 574.5,530.8 575.0,530.8 575.5,530.8 576.0,530.8 576.5,530.8 577.0,530.8 577.5,530.8 578.0,530.8 578.5,530.8 579.0,530.8 579.5,530.8 580.0,530.8 580.5,530.8 581.0,530.8 581.5,530.8 582.0,530.8 582.5,530.8 583.0,530.8 583.5,530.8 584.0,530.8 584.5,530.8 585.0,530.8 585.5,530.8 586.0,530.8 586.5,530.8 587.0,530.8 587.5,530.8 588.0,530.8 588.5,530.8 589.0,530.8 589.5,530.8 590.0,530.8 590.5,530.8 591.0,530.8 591.5,530.8 592.0,530.7 592.5,530.7 593.0,530.7 593.5,530.7 594.0,530.7 594.5,530.7 595.0,530.7 595.5,530.7 596.0,530.7 596.5,530.7 597.0,530.7 597.5,530.6 598.0,530.6 598.5,530.6 599.0,530.6 599.5,530.6 600.0,530.6 600.5,530.6 601.0,530.6 601.5,530.6 602.0,530.6 602.5,530.6 603.0,530.6 603.5,530.6" fill="none" stroke="#78b139" stroke-width="1.3" stroke-linejoin="round"/>
<path d="M103.0,530.8 103.5,530.8 104.0,530.8 104.5,530.8 105.0,530.8 105.5,530.8 106.0,530.7 106.5,530.7 107.0,530.6 107.5,530.6 108.0,530.6 108.5,530.5 109.0,530.5 109.5,530.4 110.0,530.4 110.5,530.4 111.0,530.3 111.5,530.3 112.0,530.3 112.5,530.2 113.0,530.2 113.5,530.2 114.0,530.2 114.5,530.1 115.0,530.1 115.5,530.1 116.0,530.1 116.5,530.0 117.0,530.0 117.5,530.0 118.0,530.0 118.5,530.0 119.0,530.0 119.5,529.9 120.0,529.9 120.5,529.9 121.0,529.9 121.5,529.9 122.0,529.8 122.5,529.8 123.0,529.8 123.5,529.8 124.0,529.7 124.5,529.7 125.0,529.7 125.5,529.7 126.0,529.6 126.5,529.6 127.0,529.6 127.5,529.5 128.0,529.5 128.5,529.5 129.0,529.4 129.5,529.4 130.0,529.4 130.5,529.3 131.0,529.3 131.5,529.2 132.0,529.2 132.5,529.1 133.0,529.0 133.5,529.0 134.0,528.9 134.5,528.9 135.0,528.8 135.5,528.7 136.0,528.6 136.5,528.6 137.0,528.5 137.5,528.4 138.0,528.3 138.5,528.2 139.0,528.1 139.5,528.0 140.0,527.9 140.5,527.8 141.0,527.7 141.5,527.5 142.0,527.4 142.5,527.3 143.0,527.2 143.5,527.0 144.0,526.9 144.5,526.7 145.0,526.6 145.5,526.4 146.0,526.2 146.5,526.1 147.0,525.9 147.5,525.7 148.0,525.5 148.5,525.3 149.0,525.1 149.5,524.9 150.0,524.7 150.5,524.5 151.0,524.3 151.5,524.0 152.0,523.8 152.5,523.5 153.0,523.3 153.5,523.0 154.0,522.8 154.5,522.5 155.0,522.2 155.5,521.9 156.0,521.6 156.5,521.3 157.0,521.0 157.5,520.7 158.0,520.4 158.5,520.0 159.0,519.7 159.5,519.3 160.0,519.0 160.5,518.6 161.0,518.2 161.5,517.8 162.0,517.5 162.5,517.0 163.0,516.6 163.5,516.2 164.0,515.8 164.5,515.3 165.0,514.9 165.5,514.4 166.0,514.0 166.5,513.5 167.0,513.0 167.5,512.5 168.0,512.0 168.5,511.5 169.0,511.0 169.5,510.4 170.0,509.9 170.5,509.3 171.0,508.7 171.5,508.2 172.0,507.6 172.5,507.0 173.0,506.4 173.5,505.7 174.0,505.1 174.5,504.5 175.0,503.8 175.5,503.1 176.0,502.5 176.5,501.8 177.0,501.1 177.5,500.3 178.0,499.6 178.5,498.9 179.0,498.1 179.5,497.4 180.0,496.6 180.5,495.8 181.0,495.0 181.5,494.2 182.0,493.3 182.5,492.5 183.0,491.6 183.5,490.8 184.0,489.9 184.5,489.0 185.0,488.1 185.5,487.2 186.0,486.2 186.5,485.3 187.0,484.3 187.5,483.3 188.0,482.3 188.5,481.3 189.0,480.3 189.5,479.2 190.0,478.2 190.5,477.1 191.0,476.0 191.5,474.9 192.0,473.7 192.5,472.6 193.0,471.4 193.5,470.2 194.0,469.0 194.5,467.7 195.0,466.5 195.5,465.2 196.0,463.9 196.5,462.6 197.0,461.3 197.5,459.9 198.0,458.5 198.5,457.2 199.0,455.8 199.5,454.3 200.0,452.9 200.5,451.5 201.0,450.0 201.5,448.6 202.0,447.1 202.5,445.6 203.0,444.1 203.5,442.6 204.0,441.1 204.5,439.5 205.0,438.0 205.5,436.4 206.0,434.9 206.5,433.3 207.0,431.8 207.5,430.2 208.0,428.6 208.5,427.0 209.0,425.4 209.5,423.8 210.0,422.2 210.5,420.6 211.0,419.0 211.5,417.4 212.0,415.7 212.5,414.1 213.0,412.5 213.5,410.8 214.0,409.2 214.5,407.5 215.0,405.9 215.5,404.2 216.0,402.6 216.5,400.9 217.0,399.2 217.5,397.6 218.0,395.9 218.5,394.3 219.0,392.6 219.5,390.9 220.0,389.3 220.5,387.6 221.0,385.9 221.5,384.3 222.0,382.6 222.5,381.0 223.0,379.3 223.5,377.7 224.0,376.0 224.5,374.3 225.0,372.7 225.5,371.1 226.0,369.4 226.5,367.8 227.0,366.1 227.5,364.5 228.0,362.9 228.5,361.3 229.0,359.7 229.5,358.0 230.0,356.4 230.5,354.9 231.0,353.3 231.5,351.7 232.0,350.1 232.5,348.6 233.0,347.0 233.5,345.5 234.0,344.0 234.5,342.5 235.0,341.0 235.5,339.5 236.0,338.1 236.5,336.6 237.0,335.2 237.5,333.8 238.0,332.4 238.5,331.1 239.0,329.7 239.5,328.4 240.0,327.1 240.5,325.9 241.0,324.6 241.5,323.4 242.0,322.2 242.5,321.1 243.0,320.0 243.5,318.9 244.0,317.8 244.5,316.8 245.0,315.7 245.5,314.8 246.0,313.8 246.5,312.9 247.0,312.1 247.5,311.2 248.0,310.5 248.5,309.7 249.0,309.0 249.5,308.3 250.0,307.6 250.5,307.0 251.0,306.5 251.5,305.9 252.0,305.4 252.5,304.9 253.0,304.4 253.5,304.0 254.0,303.6 254.5,303.2 255.0,302.9 255.5,302.5 256.0,302.3 256.5,302.0 257.0,301.7 257.5,301.5 258.0,301.3 258.5,301.1 259.0,300.9 259.5,300.8 260.0,300.7 260.5,300.6 261.0,300.5 261.5,300.4 262.0,300.4 262.5,300.3 263.0,300.3 263.5,300.3 264.0,300.3 264.5,300.3 265.0,300.3 265.5,300.3 266.0,300.4 266.5,300.4 267.0,300.5 267.5,300.5 268.0,300.6 268.5,300.7 269.0,300.8 269.5,300.9 270.0,301.0 270.5,301.1 271.0,301.1 271.5,301.2 272.0,301.3 272.5,301.4 273.0,301.5 273.5,301.6 274.0,301.7 274.5,301.8 275.0,301.9 275.5,302.0 276.0,302.1 276.5,302.2 277.0,302.3 277.5,302.4 278.0,302.5 278.5,302.6 279.0,302.6 279.5,302.7 280.0,302.8 280.5,302.9 281.0,302.9 281.5,303.0 282.0,303.1 282.5,303.1 283.0,303.2 283.5,303.3 284.0,303.3 284.5,303.4 285.0,303.4 285.5,303.4 286.0,303.5 286.5,303.5 287.0,303.5 287.5,303.5 288.0,303.6 288.5,303.6 289.0,303.6 289.5,303.6 290.0,303.5 290.5,303.5 291.0,303.5 291.5,303.5 292.0,303.4 292.5,303.4 293.0,303.3 293.5,303.3 294.0,303.2 294.5,303.2 295.0,303.1 295.5,303.0 296.0,302.9 296.5,302.8 297.0,302.7 297.5,302.5 298.0,302.4 298.5,302.3 299.0,302.1 299.5,302.0 300.0,301.8 300.5,301.6 301.0,301.4 301.5,301.2 302.0,301.0 302.5,300.8 303.0,300.5 303.5,300.3 304.0,300.0 304.5,299.8 305.0,299.5 305.5,299.2 306.0,298.9 306.5,298.6 307.0,298.3 307.5,298.0 308.0,297.6 308.5,297.3 309.0,296.9 309.5,296.6 310.0,296.2 310.5,295.8 311.0,295.4 311.5,295.1 312.0,294.7 312.5,294.3 313.0,293.9 313.5,293.5 314.0,293.1 314.5,292.7 315.0,292.3 315.5,291.9 316.0,291.5 316.5,291.1 317.0,290.6 317.5,290.2 318.0,289.8 318.5,289.4 319.0,289.0 319.5,288.6 320.0,288.2 320.5,287.8 321.0,287.5 321.5,287.1 322.0,286.7 322.5,286.3 323.0,286.0 323.5,285.6 324.0,285.3 324.5,284.9 325.0,284.6 325.5,284.2 326.0,283.9 326.5,283.6 327.0,283.3 327.5,283.0 328.0,282.8 328.5,282.5 329.0,282.3 329.5,282.0 330.0,281.8 330.5,281.6 331.0,281.4 331.5,281.2 332.0,281.0 332.5,280.9 333.0,280.7 333.5,280.6 334.0,280.5 334.5,280.4 335.0,280.3 335.5,280.3 336.0,280.2 336.5,280.2 337.0,280.2 337.5,280.2 338.0,280.2 338.5,280.2 339.0,280.2 339.5,280.3 340.0,280.3 340.5,280.4 341.0,280.5 341.5,280.6 342.0,280.7 342.5,280.8 343.0,280.9 343.5,281.1 344.0,281.2 344.5,281.4 345.0,281.6 345.5,281.8 346.0,282.0 346.5,282.2 347.0,282.4 347.5,282.7 348.0,282.9 348.5,283.2 349.0,283.4 349.5,283.7 350.0,284.0 350.5,284.3 351.0,284.6 351.5,284.9 352.0,285.2 352.5,285.6 353.0,285.9 353.5,286.3 354.0,286.6 354.5,287.0 355.0,287.4 355.5,287.7 356.0,288.1 356.5,288.5 357.0,289.0 357.5,289.4 358.0,289.8 358.5,290.2 359.0,290.7 359.5,291.1 360.0,291.6 360.5,292.0 361.0,292.5 361.5,293.0 362.0,293.5 362.5,293.9 363.0,294.4 363.5,294.9 364.0,295.4 364.5,296.0 365.0,296.5 365.5,297.0 366.0,297.5 366.5,298.1 367.0,298.6 367.5,299.1 368.0,299.7 368.5,300.2 369.0,300.8 369.5,301.3 370.0,301.9 370.5,302.5 371.0,303.0 371.5,303.6 372.0,304.2 372.5,304.8 373.0,305.4 373.5,305.9 374.0,306.5 374.5,307.1 375.0,307.7 375.5,308.3 376.0,308.9 376.5,309.5 377.0,310.1 377.5,310.7 378.0,311.3 378.5,312.0 379.0,312.6 379.5,313.2 380.0,313.8 380.5,314.4 381.0,315.0 381.5,315.6 382.0,316.2 382.5,316.9 383.0,317.5 383.5,318.1 384.0,318.7 384.5,319.3 385.0,319.9 385.5,320.5 386.0,321.2 386.5,321.8 387.0,322.4 387.5,323.0 388.0,323.6 388.5,324.2 389.0,324.8 389.5,325.4 390.0,326.0 390.5,326.6 391.0,327.2 391.5,327.8 392.0,328.4 392.5,329.0 393.0,329.6 393.5,330.1 394.0,330.7 394.5,331.3 395.0,331.9 395.5,332.4 396.0,333.0 396.5,333.6 397.0,334.1 397.5,334.7 398.0,335.2 398.5,335.8 399.0,336.3 399.5,336.9 400.0,337.4 400.5,337.9 401.0,338.4 401.5,338.9 402.0,339.5 402.5,340.0 403.0,340.5 403.5,341.0 404.0,341.4 404.5,341.9 405.0,342.4 405.5,342.9 406.0,343.3 406.5,343.8 407.0,344.2 407.5,344.7 408.0,345.1 408.5,345.6 409.0,346.0 409.5,346.4 410.0,346.9 410.5,347.3 411.0,347.7 411.5,348.1 412.0,348.6 412.5,349.0 413.0,349.4 413.5,349.8 414.0,350.2 414.5,350.6 415.0,351.0 415.5,351.4 416.0,351.8 416.5,352.2 417.0,352.6 417.5,353.0 418.0,353.4 418.5,353.8 419.0,354.2 419.5,354.6 420.0,355.0 420.5,355.4 421.0,355.9 421.5,356.3 422.0,356.7 422.5,357.1 423.0,357.5 423.5,357.9 424.0,358.3 424.5,358.7 425.0,359.2 425.5,359.6 426.0,360.0 426.5,360.4 427.0,360.9 427.5,361.3 428.0,361.7 428.5,362.2 429.0,362.6 429.5,363.1 430.0,363.5 430.5,364.0 431.0,364.5 431.5,365.0 432.0,365.4 432.5,365.9 433.0,366.4 433.5,366.9 434.0,367.4 434.5,367.9 435.0,368.4 435.5,369.0 436.0,369.5 436.5,370.0 437.0,370.6 437.5,371.1 438.0,371.7 438.5,372.3 439.0,372.8 439.5,373.4 440.0,374.0 440.5,374.6 441.0,375.2 441.5,375.9 442.0,376.5 442.5,377.2 443.0,377.8 443.5,378.5 444.0,379.1 444.5,379.8 445.0,380.5 445.5,381.2 446.0,382.0 446.5,382.7 447.0,383.4 447.5,384.2 448.0,385.0 448.5,385.7 449.0,386.5 449.5,387.3 450.0,388.1 450.5,389.0 451.0,389.8 451.5,390.7 452.0,391.6 452.5,392.5 453.0,393.4 453.5,394.3 454.0,395.2 454.5,396.2 455.0,397.2 455.5,398.2 456.0,399.2 456.5,400.3 457.0,401.3 457.5,402.4 458.0,403.5 458.5,404.7 459.0,405.8 459.5,407.0 460.0,408.2 460.5,409.4 461.0,410.7 461.5,412.0 462.0,413.3 462.5,414.6 463.0,416.0 463.5,417.4 464.0,418.8 464.5,420.2 465.0,421.6 465.5,423.1 466.0,424.5 466.5,425.9 467.0,427.3 467.5,428.7 468.0,430.1 468.5,431.5 469.0,432.8 469.5,434.1 470.0,435.4 470.5,436.6 471.0,437.8 471.5,438.9 472.0,440.0 472.5,441.2 473.0,442.2 473.5,443.3 474.0,444.4 474.5,445.5 475.0,446.5 475.5,447.6 476.0,448.6 476.5,449.7 477.0,450.8 477.5,451.9 478.0,453.0 478.5,454.2 479.0,455.3 479.5,456.5 480.0,457.7 480.5,458.9 481.0,460.1 481.5,461.3 482.0,462.5 482.5,463.7 483.0,464.9 483.5,466.1 484.0,467.3 484.5,468.5 485.0,469.7 485.5,470.9 486.0,472.1 486.5,473.3 487.0,474.4 487.5,475.6 488.0,476.7 488.5,477.9 489.0,479.0 489.5,480.1 490.0,481.1 490.5,482.2 491.0,483.2 491.5,484.2 492.0,485.2 492.5,486.1 493.0,487.0 493.5,488.0 494.0,488.8 494.5,489.7 495.0,490.6 495.5,491.4 496.0,492.2 496.5,493.0 497.0,493.7 497.5,494.5 498.0,495.2 498.5,495.9 499.0,496.6 499.5,497.3 500.0,498.0 500.5,498.6 501.0,499.3 501.5,499.9 502.0,500.5 502.5,501.1 503.0,501.7 503.5,502.2 504.0,502.8 504.5,503.3 505.0,503.9 505.5,504.4 506.0,504.9 506.5,505.4 507.0,505.9 507.5,506.4 508.0,506.8 508.5,507.3 509.0,507.8 509.5,508.2 510.0,508.6 510.5,509.1 511.0,509.5 511.5,509.9 512.0,510.3 512.5,510.7 513.0,511.0 513.5,511.4 514.0,511.8 514.5,512.1 515.0,512.5 515.5,512.8 516.0,513.2 516.5,513.5 517.0,513.8 517.5,514.1 518.0,514.4 518.5,514.7 519.0,515.0 519.5,515.3 520.0,515.5 520.5,515.8 521.0,516.1 521.5,516.3 522.0,516.6 522.5,516.8 523.0,517.0 523.5,517.3 524.0,517.5 524.5,517.7 525.0,517.9 525.5,518.1 526.0,518.3 526.5,518.5 527.0,518.7 527.5,518.9 528.0,519.1 528.5,519.2 529.0,519.4 529.5,519.6 530.0,519.7 530.5,519.9 531.0,520.1 531.5,520.2 532.0,520.3 532.5,520.5 533.0,520.6 533.5,520.8 534.0,520.9 534.5,521.0 535.0,521.1 535.5,521.3 536.0,521.4 536.5,521.5 537.0,521.6 537.5,521.7 538.0,521.8 538.5,521.9 539.0,522.0 539.5,522.1 540.0,522.2 540.5,522.3 541.0,522.4 541.5,522.5 542.0,522.6 542.5,522.7 543.0,522.8 543.5,522.9 544.0,523.0 544.5,523.1 545.0,523.2 545.5,523.3 546.0,523.3 546.5,523.4 547.0,523.5 547.5,523.6 548.0,523.7 548.5,523.8 549.0,523.9 549.5,524.0 550.0,524.0 550.5,524.1 551.0,524.2 551.5,524.3 552.0,524.4 552.5,524.5 553.0,524.6 553.5,524.7 554.0,524.7 554.5,524.8 555.0,524.9 555.5,525.0 556.0,525.1 556.5,525.2 557.0,525.3 557.5,525.4 558.0,525.4 558.5,525.5 559.0,525.6 559.5,525.7 560.0,525.8 560.5,525.9 561.0,526.0 561.5,526.0 562.0,526.1 562.5,526.2 563.0,526.3 563.5,526.4 564.0,526.5 564.5,526.6 565.0,526.6 565.5,526.7 566.0,526.8 566.5,526.9 567.0,527.0 567.5,527.0 568.0,527.1 568.5,527.2 569.0,527.3 569.5,527.4 570.0,527.4 570.5,527.5 571.0,527.6 571.5,527.7 572.0,527.7 572.5,527.8 573.0,527.9 573.5,528.0 574.0,528.0 574.5,528.1 575.0,528.2 575.5,528.2 576.0,528.3 576.5,528.4 577.0,528.4 577.5,528.5 578.0,528.6 578.5,528.6 579.0,528.7 579.5,528.8 580.0,528.8 580.5,528.9 581.0,528.9 581.5,529.0 582.0,529.1 582.5,529.1 583.0,529.2 583.5,529.2 584.0,529.3 584.5,529.3 585.0,529.4 585.5,529.4 586.0,529.5 586.5,529.5 587.0,529.6 587.5,529.6 588.0,529.6 588.5,529.7 589.0,529.7 589.5,529.8 590.0,529.8 590.5,529.8 591.0,529.9 591.5,529.9 592.0,529.9 592.5,530.0 593.0,530.0 593.5,530.0 594.0,530.0 594.5,530.1 595.0,530.1 595.5,530.1 596.0,530.1 596.5,530.2 597.0,530.2 597.5,530.2 598.0,530.2 598.5,530.2 599.0,530.2 599.5,530.2 600.0,530.2 600.5,530.2 601.0,530.2 601.5,530.2 602.0,530.2 602.5,530.2 603.0,530.2 603.5,530.2" fill="none" stroke="#e9b520" stroke-width="1.3" stroke-linejoin="round"/>
<path d="M76.0,529.5 76.5,529.4 77.0,529.3 77.5,529.1 78.0,529.0 78.5,528.9 79.0,528.8 79.5,528.7 80.0,528.6 80.5,528.4 81.0,528.3 81.5,528.2 82.0,528.0 82.5,527.9 83.0,527.7 83.5,527.6 84.0,527.4 84.5,527.3 85.0,527.1 85.5,527.0 86.0,526.8 86.5,526.6 87.0,526.4 87.5,526.2 88.0,526.1 88.5,525.9 89.0,525.7 89.5,525.5 90.0,525.2 90.5,525.0 91.0,524.8 91.5,524.6 92.0,524.4 92.5,524.1 93.0,523.9 93.5,523.6 94.0,523.4 94.5,523.1 95.0,522.8 95.5,522.6 96.0,522.3 96.5,522.0 97.0,521.7 97.5,521.4 98.0,521.1 98.5,520.8 99.0,520.5 99.5,520.2 100.0,519.8 100.5,519.5 101.0,519.1 101.5,518.8 102.0,518.4 102.5,518.0 103.0,517.7 103.5,517.3 104.0,516.9 104.5,516.5 105.0,516.0 105.5,515.6 106.0,515.2 106.5,514.8 107.0,514.3 107.5,513.9 108.0,513.4 108.5,512.9 109.0,512.4 109.5,511.9 110.0,511.4 110.5,510.9 111.0,510.4 111.5,509.9 112.0,509.3 112.5,508.8 113.0,508.2 113.5,507.6 114.0,507.1 114.5,506.5 115.0,505.9 115.5,505.2 116.0,504.6 116.5,504.0 117.0,503.3 117.5,502.7 118.0,502.0 118.5,501.3 119.0,500.6 119.5,499.9 120.0,499.2 120.5,498.4 121.0,497.7 121.5,496.9 122.0,496.1 122.5,495.3 123.0,494.5 123.5,493.7 124.0,492.9 124.5,492.1 125.0,491.2 125.5,490.3 126.0,489.4 126.5,488.5 127.0,487.6 127.5,486.7 128.0,485.8 128.5,484.8 129.0,483.8 129.5,482.8 130.0,481.8 130.5,480.8 131.0,479.8 131.5,478.7 132.0,477.7 132.5,476.6 133.0,475.5 133.5,474.4 134.0,473.2 134.5,472.1 135.0,470.9 135.5,469.7 136.0,468.6 136.5,467.3 137.0,466.1 137.5,464.9 138.0,463.6 138.5,462.4 139.0,461.1 139.5,459.8 140.0,458.5 140.5,457.1 141.0,455.8 141.5,454.4 142.0,453.0 142.5,451.6 143.0,450.2 143.5,448.8 144.0,447.4 144.5,445.9 145.0,444.4 145.5,442.9 146.0,441.4 146.5,439.9 147.0,438.4 147.5,436.8 148.0,435.3 148.5,433.7 149.0,432.1 149.5,430.5 150.0,428.9 150.5,427.2 151.0,425.6 151.5,423.9 152.0,422.2 152.5,420.5 153.0,418.8 153.5,417.1 154.0,415.3 154.5,413.6 155.0,411.8 155.5,410.0 156.0,408.2 156.5,406.4 157.0,404.5 157.5,402.7 158.0,400.8 158.5,399.0 159.0,397.1 159.5,395.3 160.0,393.4 160.5,391.5 161.0,389.6 161.5,387.8 162.0,385.9 162.5,384.0 163.0,382.2 163.5,380.4 164.0,378.5 164.5,376.7 165.0,374.9 165.5,373.1 166.0,371.3 166.5,369.6 167.0,367.9 167.5,366.2 168.0,364.5 168.5,362.8 169.0,361.1 169.5,359.5 170.0,357.9 170.5,356.3 171.0,354.7 171.5,353.2 172.0,351.6 172.5,350.1 173.0,348.6 173.5,347.1 174.0,345.7 174.5,344.2 175.0,342.8 175.5,341.4 176.0,340.0 176.5,338.6 177.0,337.3 177.5,336.0 178.0,334.7 178.5,333.4 179.0,332.1 179.5,330.9 180.0,329.6 180.5,328.4 181.0,327.2 181.5,326.1 182.0,324.9 182.5,323.8 183.0,322.7 183.5,321.6 184.0,320.5 184.5,319.4 185.0,318.4 185.5,317.4 186.0,316.4 186.5,315.4 187.0,314.5 187.5,313.5 188.0,312.6 188.5,311.7 189.0,310.8 189.5,310.0 190.0,309.1 190.5,308.3 191.0,307.5 191.5,306.7 192.0,305.9 192.5,305.2 193.0,304.5 193.5,303.7 194.0,303.1 194.5,302.4 195.0,301.7 195.5,301.1 196.0,300.5 196.5,299.9 197.0,299.3 197.5,298.8 198.0,298.2 198.5,297.7 199.0,297.2 199.5,296.7 200.0,296.3 200.5,295.8 201.0,295.4 201.5,295.0 202.0,294.6 202.5,294.2 203.0,293.9 203.5,293.5 204.0,293.2 204.5,292.9 205.0,292.6 205.5,292.3 206.0,292.0 206.5,291.8 207.0,291.5 207.5,291.3 208.0,291.1 208.5,290.9 209.0,290.7 209.5,290.5 210.0,290.3 210.5,290.2 211.0,290.0 211.5,289.9 212.0,289.8 212.5,289.6 213.0,289.5 213.5,289.4 214.0,289.3 214.5,289.3 215.0,289.2 215.5,289.1 216.0,289.1 216.5,289.0 217.0,289.0 217.5,288.9 218.0,288.9 218.5,288.8 219.0,288.8 219.5,288.8 220.0,288.8 220.5,288.8 221.0,288.8 221.5,288.8 222.0,288.8 222.5,288.8 223.0,288.8 223.5,288.8 224.0,288.8 224.5,288.8 225.0,288.8 225.5,288.8 226.0,288.9 226.5,288.9 227.0,288.9 227.5,288.9 228.0,288.9 228.5,288.9 229.0,288.9 229.5,288.9 230.0,289.0 230.5,289.0 231.0,289.0 231.5,289.0 232.0,289.0 232.5,288.9 233.0,288.9 233.5,288.9 234.0,288.9 234.5,288.9 235.0,288.8 235.5,288.8 236.0,288.8 236.5,288.7 237.0,288.6 237.5,288.6 238.0,288.5 238.5,288.4 239.0,288.3 239.5,288.2 240.0,288.1 240.5,288.0 241.0,287.9 241.5,287.8 242.0,287.7 242.5,287.6 243.0,287.4 243.5,287.3 244.0,287.2 244.5,287.0 245.0,286.9 245.5,286.7 246.0,286.6 246.5,286.4 247.0,286.2 247.5,286.1 248.0,285.9 248.5,285.7 249.0,285.6 249.5,285.4 250.0,285.2 250.5,285.0 251.0,284.9 251.5,284.7 252.0,284.5 252.5,284.3 253.0,284.1 253.5,284.0 254.0,283.8 254.5,283.6 255.0,283.4 255.5,283.2 256.0,283.0 256.5,282.9 257.0,282.7 257.5,282.5 258.0,282.3 258.5,282.2 259.0,282.0 259.5,281.8 260.0,281.6 260.5,281.5 261.0,281.3 261.5,281.2 262.0,281.0 262.5,280.9 263.0,280.7 263.5,280.6 264.0,280.4 264.5,280.3 265.0,280.1 265.5,280.0 266.0,279.9 266.5,279.8 267.0,279.7 267.5,279.6 268.0,279.5 268.5,279.4 269.0,279.3 269.5,279.2 270.0,279.1 270.5,279.1 271.0,279.0 271.5,278.9 272.0,278.9 272.5,278.9 273.0,278.8 273.5,278.8 274.0,278.8 274.5,278.8 275.0,278.8 275.5,278.8 276.0,278.8 276.5,278.9 277.0,278.9 277.5,279.0 278.0,279.0 278.5,279.1 279.0,279.2 279.5,279.3 280.0,279.4 280.5,279.5 281.0,279.6 281.5,279.8 282.0,279.9 282.5,280.1 283.0,280.2 283.5,280.4 284.0,280.6 284.5,280.8 285.0,281.1 285.5,281.3 286.0,281.6 286.5,281.8 287.0,282.1 287.5,282.4 288.0,282.7 288.5,283.0 289.0,283.4 289.5,283.7 290.0,284.1 290.5,284.5 291.0,284.9 291.5,285.3 292.0,285.7 292.5,286.2 293.0,286.6 293.5,287.1 294.0,287.6 294.5,288.1 295.0,288.6 295.5,289.1 296.0,289.6 296.5,290.2 297.0,290.7 297.5,291.3 298.0,291.8 298.5,292.4 299.0,293.0 299.5,293.6 300.0,294.2 300.5,294.8 301.0,295.5 301.5,296.1 302.0,296.7 302.5,297.4 303.0,298.0 303.5,298.7 304.0,299.4 304.5,300.1 305.0,300.7 305.5,301.4 306.0,302.1 306.5,302.8 307.0,303.5 307.5,304.2 308.0,304.9 308.5,305.6 309.0,306.3 309.5,307.1 310.0,307.8 310.5,308.5 311.0,309.2 311.5,310.0 312.0,310.7 312.5,311.4 313.0,312.1 313.5,312.9 314.0,313.6 314.5,314.3 315.0,315.0 315.5,315.8 316.0,316.5 316.5,317.2 317.0,317.9 317.5,318.6 318.0,319.4 318.5,320.1 319.0,320.8 319.5,321.5 320.0,322.2 320.5,322.9 321.0,323.6 321.5,324.2 322.0,324.9 322.5,325.6 323.0,326.3 323.5,326.9 324.0,327.6 324.5,328.2 325.0,328.9 325.5,329.5 326.0,330.1 326.5,330.7 327.0,331.3 327.5,331.9 328.0,332.5 328.5,333.1 329.0,333.7 329.5,334.2 330.0,334.8 330.5,335.3 331.0,335.8 331.5,336.3 332.0,336.8 332.5,337.3 333.0,337.8 333.5,338.3 334.0,338.7 334.5,339.1 335.0,339.6 335.5,340.0 336.0,340.4 336.5,340.7 337.0,341.1 337.5,341.4 338.0,341.8 338.5,342.1 339.0,342.4 339.5,342.7 340.0,343.0 340.5,343.3 341.0,343.6 341.5,343.8 342.0,344.1 342.5,344.3 343.0,344.5 343.5,344.8 344.0,345.0 344.5,345.2 345.0,345.4 345.5,345.6 346.0,345.7 346.5,345.9 347.0,346.1 347.5,346.3 348.0,346.4 348.5,346.6 349.0,346.7 349.5,346.9 350.0,347.0 350.5,347.2 351.0,347.3 351.5,347.5 352.0,347.6 352.5,347.7 353.0,347.9 353.5,348.0 354.0,348.1 354.5,348.3 355.0,348.4 355.5,348.5 356.0,348.7 356.5,348.8 357.0,349.0 357.5,349.1 358.0,349.3 358.5,349.4 359.0,349.6 359.5,349.7 360.0,349.9 360.5,350.1 361.0,350.3 361.5,350.4 362.0,350.6 362.5,350.8 363.0,351.0 363.5,351.3 364.0,351.5 364.5,351.7 365.0,351.9 365.5,352.2 366.0,352.4 366.5,352.7 367.0,353.0 367.5,353.3 368.0,353.6 368.5,353.9 369.0,354.2 369.5,354.6 370.0,354.9 370.5,355.3 371.0,355.6 371.5,356.0 372.0,356.4 372.5,356.9 373.0,357.3 373.5,357.8 374.0,358.2 374.5,358.7 375.0,359.2 375.5,359.7 376.0,360.3 376.5,360.8 377.0,361.4 377.5,362.0 378.0,362.6 378.5,363.2 379.0,363.9 379.5,364.6 380.0,365.3 380.5,366.0 381.0,366.7 381.5,367.5 382.0,368.3 382.5,369.1 383.0,369.9 383.5,370.8 384.0,371.6 384.5,372.6 385.0,373.5 385.5,374.4 386.0,375.4 386.5,376.4 387.0,377.5 387.5,378.5 388.0,379.6 388.5,380.7 389.0,381.8 389.5,383.0 390.0,384.2 390.5,385.4 391.0,386.6 391.5,387.8 392.0,389.1 392.5,390.4 393.0,391.7 393.5,393.0 394.0,394.3 394.5,395.6 395.0,397.0 395.5,398.3 396.0,399.7 396.5,401.1 397.0,402.5 397.5,403.9 398.0,405.4 398.5,406.8 399.0,408.2 399.5,409.7 400.0,411.1 400.5,412.6 401.0,414.0 401.5,415.5 402.0,417.0 402.5,418.5 403.0,419.9 403.5,421.4 404.0,422.9 404.5,424.4 405.0,425.9 405.5,427.3 406.0,428.8 406.5,430.3 407.0,431.7 407.5,433.2 408.0,434.7 408.5,436.1 409.0,437.5 409.5,439.0 410.0,440.4 410.5,441.8 411.0,443.2 411.5,444.6 412.0,446.0 412.5,447.4 413.0,448.8 413.5,450.1 414.0,451.5 414.5,452.8 415.0,454.1 415.5,455.4 416.0,456.8 416.5,458.0 417.0,459.3 417.5,460.6 418.0,461.9 418.5,463.1 419.0,464.3 419.5,465.6 420.0,466.8 420.5,468.0 421.0,469.1 421.5,470.3 422.0,471.5 422.5,472.6 423.0,473.8 423.5,474.9 424.0,476.0 424.5,477.1 425.0,478.1 425.5,479.2 426.0,480.3 426.5,481.3 427.0,482.3 427.5,483.3 428.0,484.3 428.5,485.3 429.0,486.2 429.5,487.2 430.0,488.1 430.5,489.0 431.0,489.9 431.5,490.8 432.0,491.7 432.5,492.5 433.0,493.3 433.5,494.2 434.0,494.9 434.5,495.7 435.0,496.5 435.5,497.2 436.0,498.0 436.5,498.7 437.0,499.4 437.5,500.0 438.0,500.7 438.5,501.3 439.0,502.0 439.5,502.6 440.0,503.2 440.5,503.8 441.0,504.3 441.5,504.9 442.0,505.4 442.5,505.9 443.0,506.4 443.5,506.9 444.0,507.4 444.5,507.9 445.0,508.3 445.5,508.7 446.0,509.2 446.5,509.6 447.0,510.0 447.5,510.4 448.0,510.8 448.5,511.1 449.0,511.5 449.5,511.8 450.0,512.2 450.5,512.5 451.0,512.8 451.5,513.1 452.0,513.4 452.5,513.7 453.0,514.0 453.5,514.2 454.0,514.5 454.5,514.8 455.0,515.0 455.5,515.2 456.0,515.5 456.5,515.7 457.0,515.9 457.5,516.1 458.0,516.3 458.5,516.5 459.0,516.7 459.5,516.9 460.0,517.1 460.5,517.3 461.0,517.4 461.5,517.6 462.0,517.8 462.5,517.9 463.0,518.1 463.5,518.2 464.0,518.4 464.5,518.5 465.0,518.7 465.5,518.8 466.0,519.0 466.5,519.1 467.0,519.2 467.5,519.4 468.0,519.5 468.5,519.6 469.0,519.8 469.5,519.9 470.0,520.0 470.5,520.2 471.0,520.3 471.5,520.4 472.0,520.6 472.5,520.7 473.0,520.8 473.5,520.9 474.0,521.0 474.5,521.2 475.0,521.3 475.5,521.4 476.0,521.5 476.5,521.6 477.0,521.8 477.5,521.9 478.0,522.0 478.5,522.1 479.0,522.2 479.5,522.3 480.0,522.4 480.5,522.5 481.0,522.7 481.5,522.8 482.0,522.9 482.5,523.0 483.0,523.1 483.5,523.2 484.0,523.3 484.5,523.4 485.0,523.5 485.5,523.6 486.0,523.7 486.5,523.8 487.0,523.9 487.5,524.0 488.0,524.1 488.5,524.2 489.0,524.3 489.5,524.3 490.0,524.4 490.5,524.5 491.0,524.6 491.5,524.7 492.0,524.8 492.5,524.9 493.0,525.0 493.5,525.1 494.0,525.1 494.5,525.2 495.0,525.3 495.5,525.4 496.0,525.5 496.5,525.5 497.0,525.6 497.5,525.7 498.0,525.8 498.5,525.9 499.0,525.9 499.5,526.0 500.0,526.1 500.5,526.2 501.0,526.2 501.5,526.3 502.0,526.4 502.5,526.4 503.0,526.5 503.5,526.6 504.0,526.6 504.5,526.7 505.0,526.8 505.5,526.8 506.0,526.9 506.5,527.0 507.0,527.0 507.5,527.1 508.0,527.2 508.5,527.2 509.0,527.3 509.5,527.4 510.0,527.4 510.5,527.5 511.0,527.5 511.5,527.6 512.0,527.6 512.5,527.7 513.0,527.7 513.5,527.8 514.0,527.9 514.5,527.9 515.0,528.0 515.5,528.0 516.0,528.1 516.5,528.1 517.0,528.2 517.5,528.2 518.0,528.3 518.5,528.3 519.0,528.4 519.5,528.4 520.0,528.5 520.5,528.5 521.0,528.5 521.5,528.6 522.0,528.6 522.5,528.7 523.0,528.7 523.5,528.8 524.0,528.8 524.5,528.8 525.0,528.9 525.5,528.9 526.0,529.0 526.5,529.0 527.0,529.0 527.5,529.1 528.0,529.1 528.5,529.1 529.0,529.2 529.5,529.2 530.0,529.2 530.5,529.3 531.0,529.3 531.5,529.3 532.0,529.4 532.5,529.4 533.0,529.4 533.5,529.5 534.0,529.5 534.5,529.5 535.0,529.6 535.5,529.6 536.0,529.6 536.5,529.6 537.0,529.7 537.5,529.7 538.0,529.7 538.5,529.7 539.0,529.8 539.5,529.8 540.0,529.8 540.5,529.8 541.0,529.9 541.5,529.9 542.0,529.9 542.5,529.9 543.0,529.9 543.5,530.0 544.0,530.0 544.5,530.0 545.0,530.0 545.5,530.0 546.0,530.1 546.5,530.1 547.0,530.1 547.5,530.1 548.0,530.1 548.5,530.2 549.0,530.2 549.5,530.2 550.0,530.2 550.5,530.2 551.0,530.2 551.5,530.2 552.0,530.3 552.5,530.3 553.0,530.3 553.5,530.3 554.0,530.3 554.5,530.3 555.0,530.3 555.5,530.4 556.0,530.4 556.5,530.4 557.0,530.4 557.5,530.4 558.0,530.4 558.5,530.4 559.0,530.4 559.5,530.4 560.0,530.4 560.5,530.5 561.0,530.5 561.5,530.5 562.0,530.5 562.5,530.5 563.0,530.5 563.5,530.5 564.0,530.5 564.5,530.5 565.0,530.5 565.5,530.5 566.0,530.5 566.5,530.5 567.0,530.5 567.5,530.6 568.0,530.6 568.5,530.6 569.0,530.6 569.5,530.6 570.0,530.6 570.5,530.6 571.0,530.6 571.5,530.6 572.0,530.6 572.5,530.6 573.0,530.6 573.5,530.6 574.0,530.6 574.5,530.6 575.0,530.6 575.5,530.6 576.0,530.6 576.5,530.6 577.0,530.6 577.5,530.6 578.0,530.6 578.5,530.6 579.0,530.6 579.5,530.6 580.0,530.6 580.5,530.6 581.0,530.6 581.5,530.6 582.0,530.6 582.5,530.6 583.0,530.6 583.5,530.6 584.0,530.6 584.5,530.6 585.0,530.6 585.5,530.6 586.0,530.6 586.5,530.6 587.0,530.6 587.5,530.6 588.0,530.6 588.5,530.6 589.0,530.6 589.5,530.6 590.0,530.6 590.5,530.6 591.0,530.6 591.5,530.6 592.0,530.6 592.5,530.6 593.0,530.6 593.5,530.6 594.0,530.6 594.5,530.6 595.0,530.6 595.5,530.6 596.0,530.6 596.5,530.6 597.0,530.6 597.5,530.6 598.0,530.6 598.5,530.6 599.0,530.6 599.5,530.6 600.0,530.6 600.5,530.6 601.0,530.6 601.5,530.6 602.0,530.6 602.5,530.6 603.0,530.6 603.5,530.6" fill="none" stroke="#b18638" stroke-width="1.3" stroke-linejoin="round"/></g>
<rect x="353" y="77" width="250.1" height="146" fill="none" stroke="#606060" stroke-width="1.3"/>
<text x="380.3" y="101.3" font-size="15.3" fill="#188A68" stroke="#188A68" stroke-width="0.3">All CpGs in KS</text>
<text x="380.3" y="119.4" font-size="15.3" fill="#C8522A" stroke="#C8522A" stroke-width="0.3">CpGs Hypermethylated in 46XX</text>
<text x="380.3" y="137.6" font-size="15.3" fill="#6C66B0" stroke="#6C66B0" stroke-width="0.3">CpGs Hypermethylated in 46XY</text>
<text x="380.3" y="155.8" font-size="15.3" fill="#D4287E" stroke="#D4287E" stroke-width="0.3">CpGs Hypermethylated in KS</text>
<text x="380.3" y="173.9" font-size="15.3" fill="#58961C" stroke="#58961C" stroke-width="0.3">CpGs Hypomethylated in 46XX</text>
<text x="380.3" y="192.1" font-size="15.3" fill="#E0A41A" stroke="#E0A41A" stroke-width="0.3">CpGs Hypomethylated in 46XY</text>
<text x="380.3" y="210.2" font-size="15.3" fill="#8E6420" stroke="#8E6420" stroke-width="0.3">CpGs Hypomethylated in KS</text>
<text x="2" y="656.2" font-size="20" fill="#222" stroke="none">B</text>
<line x1="47" y1="678" x2="47" y2="1086" stroke="#111" stroke-width="1.6"/>
<line x1="46.2" y1="1085.8" x2="663" y2="1085.8" stroke="#111" stroke-width="1.6"/>
<text x="37.6" y="1073.9" font-size="17" text-anchor="end" fill="#111" stroke="#111" stroke-width="0.3">0</text>
<text x="37.6" y="1041.0" font-size="17" text-anchor="end" fill="#111" stroke="#111" stroke-width="0.3">10</text>
<text x="37.6" y="1008.1" font-size="17" text-anchor="end" fill="#111" stroke="#111" stroke-width="0.3">20</text>
<text x="37.6" y="975.3" font-size="17" text-anchor="end" fill="#111" stroke="#111" stroke-width="0.3">30</text>
<text x="37.6" y="942.4" font-size="17" text-anchor="end" fill="#111" stroke="#111" stroke-width="0.3">40</text>
<text x="37.6" y="909.5" font-size="17" text-anchor="end" fill="#111" stroke="#111" stroke-width="0.3">50</text>
<text x="37.6" y="876.6" font-size="17" text-anchor="end" fill="#111" stroke="#111" stroke-width="0.3">60</text>
<text x="37.6" y="843.7" font-size="17" text-anchor="end" fill="#111" stroke="#111" stroke-width="0.3">70</text>
<text x="37.6" y="810.9" font-size="17" text-anchor="end" fill="#111" stroke="#111" stroke-width="0.3">80</text>
<text x="37.6" y="778.0" font-size="17" text-anchor="end" fill="#111" stroke="#111" stroke-width="0.3">90</text>
<text x="37.6" y="745.1" font-size="17" text-anchor="end" fill="#111" stroke="#111" stroke-width="0.3">100</text>
<rect x="75.3" y="738.9" width="173.5" height="328.9" fill="#5ECDD1"/>
<rect x="75.3" y="853.7" width="173.5" height="214.1" fill="#83A1D9"/>
<rect x="75.3" y="867.8" width="173.5" height="200.0" fill="#D76EB8"/>
<rect x="75.3" y="901.7" width="173.5" height="166.1" fill="#FC7E74"/>
<rect x="75.3" y="1008.2" width="173.5" height="59.6" fill="#2EB71D"/>
<rect x="75.3" y="1052.3" width="173.5" height="15.5" fill="#B89D1F"/>
<rect x="267.9" y="738.9" width="173.3" height="328.7" fill="#5ECDD1"/>
<rect x="267.9" y="750.5" width="173.3" height="317.1" fill="#D76EB8"/>
<rect x="267.9" y="793.3" width="173.3" height="274.3" fill="#FC7E74"/>
<rect x="267.9" y="1004.7" width="173.3" height="62.9" fill="#2EB71D"/>
<rect x="460.1" y="738.9" width="173.6" height="328.7" fill="#5ECDD1"/>
<rect x="460.1" y="891.3" width="173.6" height="176.3" fill="#83A1D9"/>
<rect x="460.1" y="896.7" width="173.6" height="170.9" fill="#D76EB8"/>
<rect x="460.1" y="912.8" width="173.6" height="154.8" fill="#FC7E74"/>
<rect x="460.1" y="1017.5" width="173.6" height="50.1" fill="#2EB71D"/>
<rect x="460.1" y="1056.7" width="173.6" height="10.9" fill="#B89D1F"/>
<text x="146.1" y="794.7" font-size="10.5" fill="#000" fill-opacity="0.72">OpenSea</text>
<text x="145.8" y="863.8" font-size="10.5" fill="#000" fill-opacity="0.72">S_Shelf</text>
<text x="145.8" y="885.5" font-size="10.5" fill="#000" fill-opacity="0.72">S_Shore</text>
<text x="146.7" y="956.6" font-size="10.5" fill="#000" fill-opacity="0.72">Island</text>
<text x="146.7" y="1031.6" font-size="10.5" fill="#000" fill-opacity="0.72">N_Shore</text>
<text x="146.7" y="1061.7" font-size="10.5" fill="#000" fill-opacity="0.72">N_Shelf</text>
<text x="334" y="747.5" font-size="10.5" fill="#000" fill-opacity="0.72">OpenSea</text>
<text x="334.6" y="771" font-size="10.5" fill="#000" fill-opacity="0.72">S_Shore</text>
<text x="334.5" y="898" font-size="10.5" fill="#000" fill-opacity="0.72">Island</text>
<text x="334.5" y="1036.3" font-size="10.5" fill="#000" fill-opacity="0.72">N_Shore</text>
<text x="532.7" y="815.5" font-size="10.5" fill="#000" fill-opacity="0.72">OpenSea</text>
<text x="532.7" y="909.4" font-size="10.5" fill="#000" fill-opacity="0.72">S_Shore</text>
<text x="533" y="964" font-size="10.5" fill="#000" fill-opacity="0.72">Island</text>
<text x="532.7" y="1040.2" font-size="10.5" fill="#000" fill-opacity="0.72">N_Shore</text>
<text x="532.7" y="1064.9" font-size="10.5" fill="#000" fill-opacity="0.72">N_Shelf</text>
<text x="534.8" y="896.6" font-size="7" font-weight="bold" textLength="24.9" lengthAdjust="spacingAndGlyphs" fill="#000" fill-opacity="0.7">S_Shelf</text>
<line x1="161.7" y1="706.3" x2="547.2" y2="706.3" stroke="#000" stroke-width="2"/>
<line x1="161.7" y1="732.2" x2="354.5" y2="732.2" stroke="#000" stroke-width="2"/>
<text x="354" y="702.5" font-size="16.75" text-anchor="middle" fill="#111" stroke="#111" stroke-width="0.3">Chi−squared=0.08</text>
<text x="257.5" y="728.7" font-size="16.75" text-anchor="middle" fill="#111" stroke="#111" stroke-width="0.3">Chi−squared&lt;0.0001</text>
<text x="162" y="1107.3" font-size="16.6" text-anchor="middle" fill="#111" stroke="#111" stroke-width="0.3">All CpGs</text>
<text x="354.8" y="1107.3" font-size="16.6" text-anchor="middle" fill="#111" stroke="#111" stroke-width="0.3">Hypermethylated DMPs</text>
<text x="547.4" y="1107.3" font-size="16.6" text-anchor="middle" fill="#111" stroke="#111" stroke-width="0.3">Hypomethylated DMPs</text>
</svg>
</body></html>
